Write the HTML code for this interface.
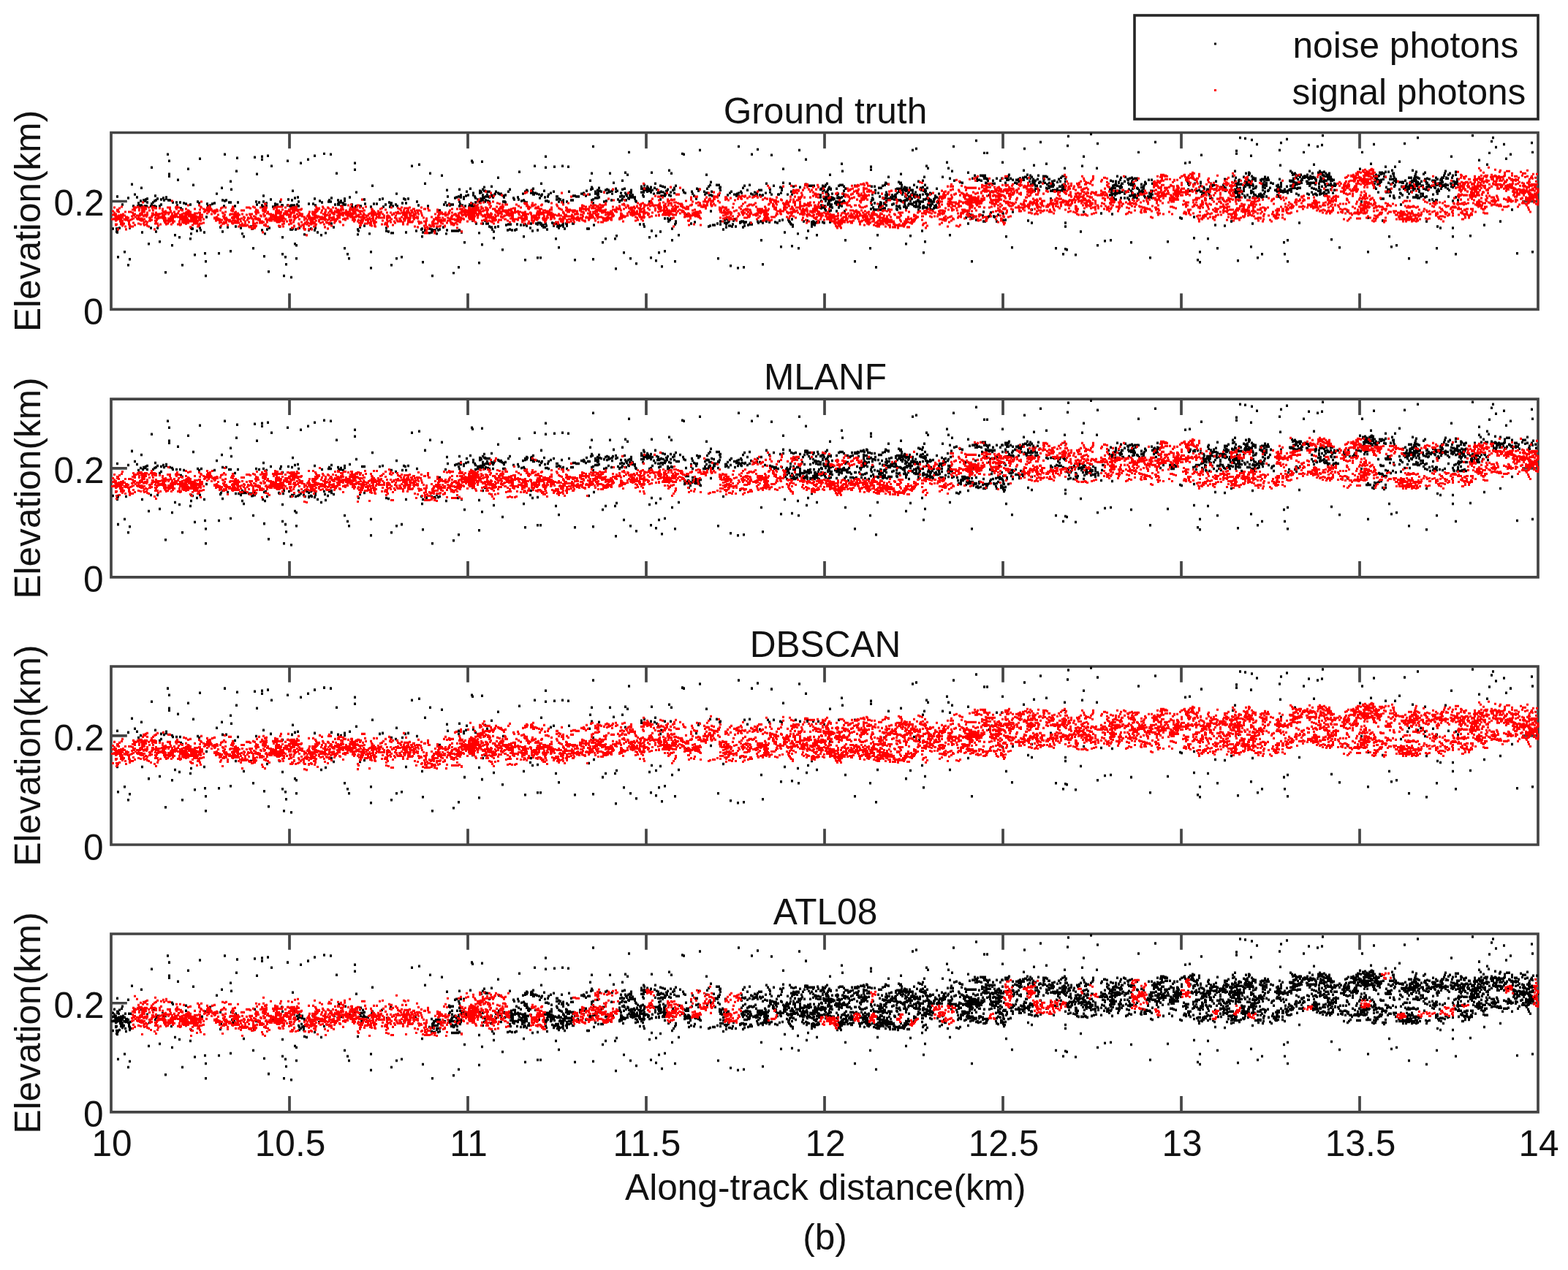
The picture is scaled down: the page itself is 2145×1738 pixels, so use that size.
<!DOCTYPE html>
<html><head><meta charset="utf-8"><title>Photon classification</title><style>html,body{margin:0;padding:0;background:#fff;overflow:hidden}svg{display:block}</style></head><body>
<svg xmlns="http://www.w3.org/2000/svg" xmlns:xlink="http://www.w3.org/1999/xlink" width="2145" height="1738" viewBox="0 0 2145 1738">
<rect width="100%" height="100%" fill="#fff"/>
<defs><path id="g0" d="M159 88h3m-3 49h3m-2 34h3m6-7h3m2 18h3m-3-92h3m-1 84h3m0-103h3m10 5h3m7 77h3m1-105h3m8 102h3m5 42h3m0-162h3m-1 9h3m-3 18h3m-3 3h3m1 95h3m-2-59h3m0 45h3m1-76h3m-1 79h3m1 38h3m5-132h3m0 96h3m1-74h3m-1 96h3m4-132h3m4 130h3m-2 11h3m-3 20h3m12-113h3m0 82h3m1-90h3m1-46h3m5 37h3m-3 96h3m-2-85h3m4-25h3m-2-18h3m6 108h3m10 16h3m-1-125h3m0 23h3m4-24h3m-3 4h3m0 133h3m2-138h3m-2 159h3m1-145h3m12 98h3m-3 23h3m-1 30h3m-1-26h3m-2 10h3m-1-142h3m2 160h3m-1-119h3m0 73h3m-1 20h3m-3-18h3m3-113h3m7-5h3m6-5h3m6 109h3m1-112h3m6 1h3m5 26h3m8 103h3m1 8h3m-1 6h3m5-131h3m-3 9h3m-1 31h3m17 104h3m-3-22h3m-1-91h3m23 109h3m4-9h3m4-2h3m11-125h3m7-2h3m1 99h3m-2 35h3m0-108h3m4-14h3m0 141h3m10-138h3m4 20h3m6 114h3m4-8h3m-2-107h3m3 11h3m-2 62h3m7-112h3m-2 2h3m6 138h3m-3-41h3m1-98h3m-3 114h3m-2-29h3m0-45h3m6-6h3m0 71h3m3-83h3m3 99h3m20-107h3m3 89h3m-1 32h3m7-40h3m0-89h3m1 88h3m-3 38h3m1 0h3m-2-102h3m3-37h3m-3 15h3m4 35h3m1-2h3m-2-34h3m-1 99h3m1 12h3m2-112h3m5 1h3m-2 34h3m5 94h3m16-43h3m-2-47h3m-2-19h3m-1-10h3m-3 19h3m-1-56h3m-3 155h3m-2-47h3m9 24h3m1-5h3m3-90h3m2 13h3m-1 77h3m-2 41h3m-2-45h3m5-76h3m-1 99h3m-1-110h3m-3 28h3m0-25h3m-1-31h3m-1 146h3m5 7h3m4-106h3m-3 3h3m1-5h3m4 72h3m-1 28h3m-3-97h3m-2-20h3m-3 80h3m2-65h3m-2 72h3m-3 34h3m-2-98h3m-1 4h3m-2 83h3m-1-29h3m-3-44h3m-2-5h3m-2 97h3m1-21h3m-3-88h3m3-23h3m0 4h3m-2 92h3m1 29h3m2-36h3m2-112h3m-1 1h3m0 83h3m15-35h3m-2-54h3m6 34h3m11 14h3m-1 101h3m-1-97h3m-2-1h3m1 58h3m7 50h3m7 3h3m-2-167h3m-1 105h3m2 61h3m-2-112h3m1 6h3m0-7h3m0-42h3m5-7h3m0 63h3m-1 62h3m-1 33h3m9-150h3m0 42h3m6 2h3m-2 82h3m0-107h3m-1 87h3m7 19h3m5-17h3m-2 20h3m-2-135h3m-2 51h3m5-38h3m-2 108h3m-1-10h3m2-6h3m4 12h3m7-62h3m-1 12h3m3 11h3m-3-44h3m9 15h3m1-30h3m-2 10h3m1 95h3m10 29h3m-3-104h3m18 86h3m-2-108h3m-3-4h3m4 138h3m-1-44h3m6-44h3m3-36h3m-3 10h3m14-14h3m4 96h3m3-11h3m0-118h3m-1 72h3m0-74h3m1 78h3m1 35h3m-2-69h3m-2 99h3m-2-104h3m-2 89h3m-1-104h3m-1 3h3m17 12h3m3-20h3m-1 8h3m-1 14h3m-3 78h3m0-88h3m-1-34h3m17 36h3m-3 70h3m2 52h3m3-166h3m8 17h3m1 0h3m0 58h3m0-5h3m4-18h3m4 0h3m-2-22h3m-3 69h3m2 33h3m5 15h3m-2-49h3m12-57h3m-2-30h3m2 99h3m2 3h3m-3-18h3m0-61h3m6-32h3m5 30h3m10 116h3m7 8h3m-1-118h3m-3 10h3m-2 101h3m-3-36h3m-3 5h3m-1 32h3m-2-143h3m-2-13h3m7 163h3m4-32h3m-1-90h3m-1-13h3m-3 76h3m7-107h3m5 47h3m-2-34h3m-3 140h3m2-44h3m2 38h3m5-1h3m-1-36h3m23 39h3m7-124h3m13 145h3m4-159h3m14 137h3m14-33h3m-1 1h3m2-76h3m3-1h3m3 104h3m-3-29h3m2 59h3m0-11h3m-3 14h3m-1-147h3m6 115h3m7-19h3m0 32h3m7-94h3m-3 63h3m6-6h3m-1-62h3m0-7h3m-1-28h3m-3 4h3m-1 147h3m-2-83h3m-1-86h3m4 1h3m5 149h3m-3-125h3m-2-22h3m-2 115h3m3-109h3m-2 156h3m3-5h3m21-143h3m-2 21h3m-2-31h3m-3 55h3m1 82h3m-2 16h3m0-158h3m-2 168h3m-3-29h3m7-92h3m3 68h3m3-97h3m4-10h3m4 27h3m2-25h3m3-2h3m-2-13h3m9 143h3m8 11h3m8-50h3m14-58h3m0-23h3m5 90h3m-3 47h3m1-121h3m1-27h3m9 105h3m1-74h3m2 96h3m0 14h3m2-110h3m-1 108h3m1-115h3m-1 59h3m2-84h3m1 74h3m-1 84h3m-3-89h3m2-32h3m4-45h3m-3 80h3m1-3h3m3-29h3m-3 34h3m-1 33h3m-3 56h3m6-93h3m2 8h3m-3 66h3m-2-30h3m1 2h3m4-78h3m1 35h3m1-55h3m-1 98h3m-3 12h3m1-54h3m-3 78h3m0-74h3m-2-7h3m13 56h3m0-138h3m6 34h3m4 89h3m1-83h3m0-16h3m0-16h3m-1-5h3m1 13h3m3 102h3m2-106h3m0 20h3m3-6h3m-1 76h3m4 60h3m17-152h3m-2 150h3m-3-137h3"/><path id="g1" d="M234 94h3m389-2h3m287-17h3m132 1h3m33-3h3m13 0h3m-3 2h3m5 0h3m4 0h3m827 20h3m12 0h3"/><path id="g2" d="M629 87h3m262-11h3m171 0h3"/><path id="g3" d="M1049 73h3"/><path id="g4" d="M153 132h3m3 3h3m-2-3h3m97-1h3m37-1h3m105 1h3m18 3h3m30-38h3m124 37h3m1 1h3m0-3h3m-1 3h3m-1-1h3m18-43h3m-1-1h3m-1 46h3m-1-1h3m-3-39h3m-1-6h3m10-12h3m10 18h3m-2-14h3m-2 1h3m-1-4h3m-1-3h3m1 6h3m0 8h3m10-5h3m12-6h3m2 12h3m3-1h3m-2 3h3m1 2h3m-1-10h3m-2 9h3m-2 2h3m-2-14h3m-1-2h3m-2 1h3m2 3h3m-2-4h3m-3 4h3m-1 2h3m-3-2h3m-3-6h3m-2 8h3m1-1h3m0 1h3m-2 5h3m-1-3h3m-2-2h3m0-5h3m-2 9h3m-2 5h3m-1 0h3m-2-6h3m-2-3h3m-3 10h3m8-3h3m-3-4h3m-2 0h3m-1 3h3m-1 1h3m-1 3h3m-1-2h3m2 2h3m3-2h3m-1 0h3m9-9h3m0-1h3m-3 2h3m-2 0h3m-1 2h3m-2-7h3m3-2h3m-2 15h3m-2-16h3m-2 15h3m3-2h3m0-10h3m5-1h3m-1-1h3m3 15h3m-2-13h3m7 14h3m-3 1h3m-2-7h3m-2-5h3m-2 4h3m-3 6h3m-2-2h3m-1-3h3m-2-11h3m-2 16h3m-2 0h3m-3-8h3m-2 2h3m-3-2h3m-1 5h3m-2 1h3m-2-9h3m-3 4h3m-2 2h3m-2-6h3m-3 1h3m-3-4h3m-1 7h3m-3 3h3m0 0h3m-3 2h3m-2 3h3m-2 1h3m4-13h3m-1 4h3m-2-4h3m-3-5h3m-3 3h3m0-1h3m-1-5h3m1 4h3m7 5h3m-1 0h3m-1-1h3m-2-1h3m-1-7h3m-2 8h3m-3 5h3m-1 0h3m-3-3h3m-2 1h3m-2-5h3m-2 0h3m-3 2h3m-2-4h3m-1 8h3m-1 1h3m-3-5h3m0-3h3m-1 4h3m-3-7h3m-3 2h3m-1-5h3m7 6h3m-2 3h3m-1 1h3m7 1h3m16-1h3m-2-6h3m-1-3h3m0-6h3m8 18h3m-3-14h3m-1 7h3m26 4h3m-1-7h3m8 8h3m1 3h3m1-1h3m3-7h3m4-9h3m14 15h3m3-16h3m6 1h3m2 4h3m13-2h3m-2-1h3m2 2h3m3 0h3m6 5h3m-3 11h3m-3-3h3m-2-9h3m-3 17h3m-3 6h3m-3 4h3m-2-1h3m-2-22h3m-3-6h3m-2 14h3m-2 2h3m-3 12h3m-2-2h3m-3 4h3m-3 0h3m-3 0h3m-3-3h3m-2-30h3m-3 35h3m-3-25h3m-3 12h3m-2-3h3m-2-21h3m-3 19h3m-3-8h3m-2 18h3m-3-1h3m-3-19h3m-3 5h3m-2 14h3m-3-12h3m-3-9h3m-3 13h3m-3 2h3m-3-3h3m-3 7h3m-2-1h3m-3 3h3m-3 10h3m-1-1h3m-3-14h3m-3 8h3m-3-24h3m-3 1h3m-3 14h3m-2 7h3m-2 4h3m-3-19h3m-2 8h3m0 5h3m-1-20h3m-3 22h3m-3-3h3m-3 1h3m-3 11h3m-2-13h3m-2 3h3m-2-1h3m-3 6h3m-2-7h3m-3 4h3m-2-28h3m-3 24h3m-1 5h3m-3-5h3m-3 1h3m-2-1h3m-3-24h3m-2 23h3m-2-1h3m-3-20h3m-2 22h3m-3 12h3m-2-31h3m32 19h3m-3 9h3m-2-31h3m-3 25h3m-1-7h3m-3 11h3m-2 3h3m-2-32h3m-3 23h3m1 9h3m-2 0h3m-3-23h3m-2 19h3m-3-26h3m-2 23h3m-3 3h3m-3-14h3m-2 8h3m-2 1h3m-3 3h3m-3-24h3m-3 25h3m-1-28h3m-3 17h3m-3 15h3m-1-1h3m-3-6h3m-2 0h3m-3-26h3m-3 32h3m-3 0h3m-2-35h3m-3 21h3m-3-4h3m-2 9h3m-3-13h3m-3-12h3m-3 30h3m-2-15h3m-3 2h3m-2 4h3m-2 0h3m-3 15h3m-2-14h3m-1-2h3m-3-1h3m-1 2h3m-3 8h3m-2-11h3m-2 0h3m-3 10h3m-3-10h3m-2 4h3m-2-6h3m-3 0h3m-2 3h3m-3 3h3m-3-14h3m-2 23h3m-3 4h3m-2 1h3m-3-29h3m-3 6h3m-2-6h3m-2 25h3m-3-34h3m-3 9h3m-3 4h3m-3 21h3m-3-9h3m-3 0h3m-2-14h3m-3 22h3m-2-8h3m-3-23h3m-3 11h3m-2-4h3m-3 17h3m-3-25h3m-2 5h3m-3-2h3m-2 23h3m-3-10h3m-3-6h3m-2 3h3m-3-4h3m-2 24h3m-3-8h3m-3-17h3m-2 21h3m-3-3h3m-3-20h3m-2 13h3m-3 13h3m-3-8h3m-3-14h3m-3 14h3m-3-17h3m-2 28h3m-3-24h3m-2 6h3m-3 5h3m-3 12h3m-3-11h3m-3-13h3m-3 14h3m-2-1h3m-2-1h3m-3 9h3m-3-17h3m-2 5h3m-3-7h3m-2 10h3m-3-15h3m-2 18h3m-3-6h3m-2-3h3m-2 6h3m-3 7h3m-2-16h3m-3 17h3m-3-20h3m-3 3h3m-3 2h3m-2 1h3m-2 16h3m-3-13h3m-3-3h3m-1 17h3m-3-20h3m-2 13h3m-3 2h3m-3-11h3m-3 12h3m-3 3h3m-2-26h3m-3 11h3m-2 7h3m-3 1h3m-3 8h3m-3-14h3m-2 5h3m-3 13h3m-3-39h3m-2 29h3m-2 2h3m-3-12h3m-3 12h3m-2-22h3m-2 3h3m-1 6h3m-3 17h3m-3 2h3m-3-29h3m-3 20h3m-2-15h3m-3 21h3m-1 2h3m-3-25h3m-3-6h3m-3 9h3m-2 3h3m-3-4h3m-2 4h3m-3 7h3m-2 12h3m-3-27h3m-3 29h3m-3-18h3m-2-2h3m-3 14h3m-1 0h3m-2 6h3m-3-6h3m-3-16h3m-3 19h3m-3 2h3m-2-20h3m-3 9h3m-3 7h3m-1 6h3m-1-11h3m1-18h3m-2 19h3m-1-5h3m18-25h3m5 2h3m0 1h3m2 48h3m0-2h3m-2-3h3m-1 3h3m-2-2h3m-1-50h3m-2 52h3m1 5h3m-2-58h3m-3 4h3m-3-3h3m0 2h3m-2 48h3m-1-47h3m-1-7h3m-2 50h3m-3 13h3m-2-59h3m-2-4h3m-3 1h3m-3 62h3m-2-53h3m-2 50h3m-3-56h3m-2 7h3m-3-6h3m-2 2h3m-3 50h3m-1-45h3m2-5h3m-3 4h3m-1 0h3m0 52h3m-1-9h3m0-47h3m0 54h3m-2-8h3m-3 9h3m0-1h3m-3-58h3m0 1h3m-3-1h3m-2-2h3m-2-2h3m2 7h3m0 4h3m-2 0h3m-2-4h3m0-1h3m-3 3h3m-1-4h3m-2 2h3m-2 0h3m-1-3h3m-2 3h3m-1-4h3m-2 0h3m-1-3h3m-3 5h3m1-4h3m-3 4h3m-1-2h3m-1 3h3m-3 5h3m-2 0h3m-1 4h3m-3 4h3m-1 0h3m-3-4h3m-1-14h3m-1 9h3m12 12h3m-1 0h3m2 0h3m3 0h3m1 0h3m62-14h3m-2 11h3m-2-1h3m-3 0h3m-3 3h3m-2-3h3m-1-4h3m-2 4h3m-3-4h3m-2-2h3m-3 10h3m-3-13h3m-3 2h3m-1 11h3m-3-20h3m-1 9h3m-2 5h3m-2 2h3m-2-14h3m-3 11h3m-2 2h3m-3-5h3m-2 0h3m0-3h3m-2-6h3m0 3h3m-2 5h3m-3-4h3m-2 13h3m-3-7h3m-2-8h3m-1 9h3m-3-2h3m-2-8h3m-1 8h3m-2 1h3m1 5h3m-2 1h3m2-2h3m0 2h3m8-12h3m-2 5h3m55 0h3m5-1h3m-3 4h3m-1 13h3m-1-11h3m-3 8h3m-2-6h3m0 4h3m-2-3h3m-1 5h3m-3-5h3m-2 8h3m-2-8h3m-2-8h3m-1 21h3m-3-19h3m-3 1h3m-1-1h3m0-5h3m4 8h3m-1 16h3m-3-14h3m-1-2h3m-2-11h3m-3 15h3m-2-3h3m-3 4h3m-2-11h3m8 14h3m-3-1h3m-2 0h3m-3-16h3m-2 14h3m-3-18h3m-3 20h3m-3 7h3m-3-18h3m-2 12h3m-3-2h3m-2-5h3m-2 9h3m-3 3h3m-3 0h3m-3-18h3m-3 1h3m-2 13h3m-3-18h3m-3 1h3m-2 21h3m-3-23h3m-3 20h3m-3 4h3m-2-18h3m-1 0h3m-2 13h3m-1-23h3m-3 15h3m-2 11h3m-2 2h3m-3 0h3m-3-22h3m-2 3h3m-3-14h3m-3 14h3m-2 0h3m-2 16h3m-3-25h3m-3 3h3m-3 4h3m-3 1h3m-1-11h3m-3-3h3m-3 11h3m-2-10h3m-3 33h3m-3-18h3m-2-4h3m-3 3h3m-2 13h3m-2-23h3m-2 4h3m-3 7h3m-3 0h3m-2 11h3m-3-9h3m-3 4h3m-3 12h3m-3-27h3m-2 23h3m-3-21h3m-1 22h3m-3-23h3m-3 3h3m-3 10h3m-2-2h3m-2 15h3m-2 0h3m-3-1h3m-1-3h3m-2 1h3m-3 1h3m-2-3h3m-3 4h3m-3-23h3m-1-1h3m-3 25h3m-3-3h3m-3-16h3m-2 2h3m-3 7h3m-2 9h3m-3-15h3m-3-9h3m-3 7h3m-2 1h3m-3 12h3m-3-17h3m-2-4h3m-3 18h3m-3-20h3m-3 15h3m-1-11h3m-3 4h3m-3-5h3m-3 9h3m-3-2h3m-1 9h3m-3-18h3m-2 3h3m-3 0h3m-3 14h3m-1-3h3m-2-7h3m23-3h3m-2 1h3m-1-1h3m-3-11h3m-2 12h3m-3-9h3m-2-1h3m-3 12h3m-3-6h3m-2 5h3m-3 1h3m-1-11h3m-3 4h3m-2 0h3m-3 7h3m-2-10h3m-2 5h3m-3 5h3m-3-10h3m-1 9h3m-2-7h3m-2-3h3m-3 9h3m-2 2h3m-3-4h3m-2 0h3m-3-1h3m-2-3h3m-2 1h3m-1-1h3m-3 0h3m-3-1h3m-1 7h3m-3-6h3m-2 0h3m-3 6h3m-3-7h3m-2 2h3m-2 2h3m-3-2h3m1 14h3m-3 6h3m-1 3h3m-1-16h3m-2 2h3m-2 14h3m-3-17h3m-2 18h3m-1-6h3m-2-4h3m-3-2h3m-3-4h3m-2 14h3m-3 1h3m-3-18h3m-2 12h3m-3 2h3m-3-14h3m-2 17h3m-3-18h3m-2 1h3m-3 7h3m-3-7h3m-1 16h3m-2-1h3m-3 4h3m-3-18h3m-2 3h3m-2-5h3m-3 8h3m-2-8h3m-3 18h3m-3 1h3m-1-14h3m-3 1h3m-2 10h3m-1-10h3m-2-6h3m-3 12h3m-3-8h3m-1-4h3m-2 7h3m-3 10h3m-1-13h3m-3 9h3m-2-6h3m50-13h3m-1 2h3m-2-4h3m-2 5h3m-1-3h3m-3 22h3m-2-23h3m-2-4h3m-1 2h3m-3 34h3m-2-35h3m-1 35h3m0-30h3m-2 21h3m-1-2h3m-3-2h3m-2 4h3m-3-4h3m-2 0h3m-2 9h3m-2-5h3m-1-30h3m-2 4h3m-2 0h3m-3 3h3m-3 28h3m-2 3h3m-3-28h3m4 27h3m-3-11h3m-2 5h3m-2 1h3m-1 2h3m-2-18h3m-2 9h3m-1-1h3m-3-10h3m-2 7h3m-2 1h3m-3 4h3m-3-8h3m-2 11h3m-3-3h3m-2-3h3m-2 1h3m-3 1h3m-3-15h3m-3 12h3m-2 0h3m-3-1h3m-3-3h3m-2 0h3m-3-2h3m-2 6h3m-3 0h3m-3-1h3m-3-11h3m-3 19h3m-2-5h3m-3-1h3m-3-1h3m-3-1h3m-3-7h3m-2 2h3m-2 9h3m-3-3h3m-3 5h3m-3 10h3m-3-23h3m-2-3h3m-3 2h3m-2 12h3m-3-17h3m-3 3h3m-2 2h3m-3-8h3m-3 32h3m-2-18h3m-3-5h3m-3 20h3m-3-32h3m-3 7h3m-3 8h3m-2 4h3m-2 4h3m-3 13h3m-3-28h3m-3 0h3m-2 9h3m-3 6h3m-2 13h3m-3-9h3m-3-1h3m-3-17h3m-2 7h3m-2 18h3m0-4h3m-3-11h3m-3 14h3m-2-10h3m-3-20h3m0 21h3m-2-3h3m-3-5h3m-3 18h3m-2-14h3m-3-5h3m-2 10h3m-2-5h3m-3-2h3m-2 21h3m-1-18h3m-3-1h3m-1-1h3m-3 19h3m-1 3h3m-2-20h3m-2-4h3m-3-1h3m-3 6h3m-3-7h3m-2 24h3m-2-13h3m-3 1h3m-3-9h3m-2 10h3m-2-4h3m-2-8h3m-3 10h3m-2-7h3m-2-4h3m-3-4h3m-2 6h3m-3-7h3m-3 8h3m-3 5h3m-2-3h3m-3-12h3m-3 4h3m-3-3h3m-2 5h3m-2 4h3m-2 1h3m-3-14h3m-2-3h3m-2 15h3m-3 1h3m-3 3h3m-2-13h3m-3 1h3m-1 9h3m-3-9h3m-3 14h3m-2-19h3m-2 21h3m-2-23h3m-2 14h3m-2 0h3m-3 4h3m-2-12h3m-3 10h3m-2 3h3m-3 19h3m-2-27h3m-2 4h3m-3 2h3m-2-5h3m-2-14h3m-3 4h3m-2 12h3m-2-3h3m-3-3h3m-2 7h3"/><path id="g5" d="M160 133h3m8 0h3m172-2h3m58-6h3m0 4h3m1-1h3m-3 3h3m-3-5h3m25 0h3m218-45h3m51 2h3m-1-1h3m3-2h3m39 3h3m28 2h3m2 0h3m52-2h3m18-13h3m-2 7h3m12 10h3m1 1h3m-3-9h3m-2 14h3m-2-5h3m1 1h3m3-6h3m10 2h3m0 0h3m-1-9h3m1 32h3m-1 4h3m-3 4h3m-3-5h3m-2 4h3m-3-1h3m-2-20h3m-3 11h3m-2 9h3m-2 0h3m-2-3h3m-3 4h3m-3-10h3m-2 7h3m-3 9h3m-2-8h3m-3 2h3m-2 0h3m-3 3h3m-2-26h3m1 20h3m-2 2h3m-2 1h3m-3-27h3m-1 0h3m-3 27h3m-2-2h3m-1 1h3m-2 3h3m-2 1h3m10-27h3m1 3h3m-2-12h3m-2 9h3m-2-3h3m-3 0h3m-1 0h3m-1 6h3m-3-9h3m-1-2h3m5 6h3m19 2h3m-2-4h3m0 1h3m-2-1h3m0 3h3m0-2h3m8-7h3m7 9h3m4 3h3m-3-2h3m-2 3h3m-1-2h3m-1 1h3m-2 0h3m-3 2h3m-1-2h3m-2 2h3m-1 0h3m2-2h3m-1-19h3m0 32h3m-2-10h3m-2 13h3m-3-10h3m-3-3h3m-3-2h3m-3 9h3m-3 0h3m-1-5h3m-3-2h3m-2 5h3m-2-6h3m-2 10h3m-3-17h3m-3 4h3m-2-19h3m-3 32h3m-3 4h3m-2-6h3m-3-1h3m-2 7h3m-3-5h3m-2 3h3m-3-15h3m-3 3h3m-3 1h3m-2 10h3m-2 3h3m-3-12h3m-3-17h3m-3 15h3m-2 13h3m-3-26h3m-2 21h3m-2 0h3m-3 4h3m-3-14h3m-2 0h3m-3 10h3m-2-23h3m-2 11h3m-2 14h3m-3-4h3m-3-6h3m-3 2h3m-3 3h3m-3 2h3m-1-1h3m-3 0h3m-2-15h3m-3 15h3m-2 4h3m-3-26h3m-2 30h3m-3-8h3m-3 5h3m-2 2h3m-3-9h3m-3-10h3m-3-13h3m-3 22h3m-2-26h3m-3 35h3m-3-1h3m-3-6h3m-3-29h3m-2 28h3m-2 5h3m-2 5h3m-3-2h3m-3-7h3m-3-29h3m-2 26h3m-3 0h3m-2-19h3m-3 23h3m-2-2h3m-3-2h3m-2 12h3m-3-1h3m-3-12h3m-3-15h3m-3 8h3m-2 11h3m-1 8h3m-3 1h3m-2-4h3m-3-23h3m-3 5h3m-2 9h3m-2 10h3m-3-21h3m-3 15h3m-3 9h3m-3-8h3m-3 2h3m-2 0h3m-3 4h3m-3-7h3m-3-16h3m-2 21h3m-3-20h3m-3 3h3m-3-10h3m-2 24h3m-3 4h3m-2 2h3m-3-36h3m-3 30h3m-2 1h3m-3-4h3m-3-10h3m-3 12h3m-3-16h3m-2 24h3m-3-13h3m-3 7h3m1-8h3m-2-12h3m-2-6h3m-3 11h3m3 21h3m-2-19h3m10 9h3m2-1h3m0-1h3m-1-9h3m-2 9h3m-3 9h3m-2-7h3m-2-3h3m-3 4h3m-3-23h3m-3 9h3m-2 25h3m-2-17h3m-2 6h3m-3-21h3m-2-1h3m-3 29h3m-2-5h3m-2-29h3m-2 34h3m-3-30h3m-1 31h3m-2-8h3m-3-26h3m-2 26h3m-2-27h3m-3 34h3m-3 0h3m-2-33h3m-3 18h3m-2-20h3m-2 6h3m-3-5h3m-2 27h3m-2-6h3m-2 2h3m-3-25h3m-2 36h3m-3-4h3m-3-10h3m-2-22h3m-2 32h3m-3-12h3m-3-4h3m-2-6h3m-3-5h3m-3 3h3m-3-9h3m-3 22h3m-3-4h3m-2-1h3m-3-10h3m-3-5h3m-3 13h3m-3 4h3m-3-5h3m-3 7h3m-2 17h3m-3-6h3m-2-15h3m-3 3h3m-3-4h3m-2-9h3m-3 24h3m-3-32h3m-3 18h3m-3-18h3m-2 1h3m-3 11h3m-3 11h3m-2-19h3m-2 36h3m-3-23h3m-2-13h3m-3 8h3m-1 16h3m6 1h3m-2 9h3m0-4h3m-1-19h3m-2 23h3m-3-6h3m-3 7h3m-3-18h3m-2 0h3m-1 17h3m-2-11h3m-1 12h3m-1-15h3m-3-22h3m-2 10h3m-3 4h3m-3 21h3m-2-13h3m-1-13h3m-3 26h3m3-26h3m-2 17h3m-3-5h3m-2 2h3m1-14h3m-2 3h3m0 13h3m0-12h3m-2 23h3m-3-20h3m1 22h3m-3-30h3m-2 12h3m0-5h3m2 2h3m1 21h3m-3-20h3m-1-11h3m-3-10h3m0 1h3m-2 10h3m-1 29h3m0-1h3m0-2h3m-3-8h3m-1-12h3m-3 22h3m-2 0h3m0 1h3m-3-25h3m5 9h3m-2-4h3m-3 0h3m-3 7h3m-2-6h3m-3 6h3m-1-4h3m-3 4h3m-3-15h3m-3 8h3m-1-1h3m-2-4h3m-3-1h3m-2 5h3m-2-1h3m-3-5h3m0-7h3m-3 10h3m-2 7h3m-3 4h3m-3-13h3m-2 9h3m-2 3h3m-3 4h3m-3-7h3m-2-12h3m-3 18h3m-2-26h3m4-6h3m-3 63h3m-2-21h3m-2 4h3m-2 18h3m-3-14h3m-1 12h3m-2-12h3m-3 1h3m-3-5h3m-3 0h3m-3 3h3m-2-4h3m-3 1h3m-2-5h3m-2 3h3m-3 2h3m-1-5h3m-3 3h3m-3-2h3m-3-20h3m-2 0h3m-3-1h3m-3 21h3m-2 1h3m-3 0h3m-2-1h3m-3 6h3m-3-5h3m-1 7h3m-3-3h3m-3-5h3m-2 6h3m-3-5h3m-3-16h3m-2-28h3m-2 50h3m-2-27h3m-3 2h3m-2 11h3m-3-4h3m-3 12h3m-2 5h3m-3-20h3m-2 25h3m-2-55h3m-2 52h3m-2-20h3m-3-33h3m-3 54h3m-3-50h3m-3 18h3m-3 32h3m-2-1h3m-3-8h3m-1 13h3m-3-1h3m-2 2h3m-2-8h3m-3 2h3m-3-38h3m-1 20h3m-3 23h3m-1-48h3m-2 45h3m-1-1h3m0 0h3m-3 5h3m-3-49h3m-3 7h3m-2 39h3m-1-48h3m-2-7h3m-2 24h3m-3 9h3m-3-14h3m-2-12h3m-2 32h3m-2-4h3m-3-26h3m-1 21h3m-3-12h3m0 27h3m-3 11h3m-2-4h3m-3-36h3m-3 16h3m-1 12h3m-1-1h3m-3 3h3m-3-18h3m-1 17h3m-3 13h3m-3-3h3m-2 1h3m-3-10h3m-3-9h3m-2-37h3m-3 9h3m-2 43h3m-3 8h3m-3-9h3m-3-9h3m-2 21h3m-3-10h3m-2 8h3m-2-64h3m-1 0h3m-3 47h3m-3 2h3m-2-31h3m-2 38h3m-1-15h3m-1 4h3m-3-4h3m-1-30h3m-3 28h3m-3-2h3m-3 3h3m-3-23h3m-2 1h3m0 25h3m-3-7h3m0 7h3m-2-26h3m-2 31h3m-3-2h3m-2-42h3m-2 34h3m-3-30h3m-2-3h3m-3 7h3m-2 31h3m-3-4h3m-2 6h3m-1-32h3m2-4h3m-2-7h3m9 15h3m9 3h3m-1 1h3m1 12h3m2-12h3m0 9h3m-1-5h3m-1-3h3m-3 5h3m-1 4h3m1-10h3m-2 1h3m-2 1h3m-2 16h3m-2-3h3m-3 1h3m-3-2h3m-2 3h3m-2-2h3m-3 2h3m-3 11h3m-3-9h3m-2 0h3m-3 4h3m-2-11h3m-2 7h3m-3 8h3m-2-10h3m-2-4h3m-3 1h3m-3-2h3m-1 16h3m-2-17h3m-3-1h3m-1 14h3m-3-4h3m-2 6h3m-3-5h3m-2 6h3m-2-3h3m-2-11h3m-3-2h3m-3 3h3m-2-6h3m-2 5h3m-2 0h3m-2-1h3m-3 4h3m-2-2h3m-2 5h3m-3-11h3m-2 4h3m-3-3h3m-2 14h3m-2-13h3m-2 9h3m-3-2h3m-2 4h3m-3-6h3m-3 3h3m-3-3h3m-1 4h3m-2-6h3m-1 4h3m-3-9h3m-3 6h3m-2 5h3m-3 4h3m-1-6h3m-3-1h3m-2-5h3m-3 11h3m0-9h3m-3 12h3m-3-4h3m-3-4h3m-3 7h3m-3-8h3m0 3h3m-2 2h3m-3 2h3m2-7h3m-2-7h3m-2 0h3m4-20h3m-2 5h3m15 4h3m-2 0h3m12-3h3m24-8h3m-3 7h3m-3-4h3m-2 1h3m-3-4h3m-3-1h3m-2 6h3m-3-3h3m-2 9h3m-3-6h3m-2-3h3m-3-1h3m-2-9h3m-3 6h3m-3 7h3m-2-5h3m-2-1h3m-3 0h3m-3 9h3m-1 18h3m1-4h3m6 0h3m-3 2h3m-1 3h3m-2-2h3m-3 1h3m-1-1h3m-3 2h3m-2-5h3m-1 2h3m-3-1h3m17-22h3m1 24h3m-3-22h3m-3 2h3m-1-2h3m-2 21h3m-2-2h3m-3 6h3m-2-6h3m-2-20h3m-1 20h3m0-2h3m-2 6h3m-2-7h3m-3 9h3m-3 2h3m-2-18h3m-3 6h3m-1 4h3m-3 3h3m-2-8h3m-3 6h3m-3-9h3m-3 15h3m-2-11h3m-3 12h3m-1-17h3m-3-16h3m-3 16h3m-2-18h3m-3 5h3m-2 30h3m-3-16h3m-2-4h3m-3 10h3m-3-7h3m-3-2h3m-2-9h3m-3 4h3m-3 3h3m-3 10h3m-2-10h3m-2 15h3m-1 3h3m-3-17h3m-3 8h3m-3-17h3m-1 14h3m-2-5h3m-3-6h3m-2 4h3m-3 4h3m-3 18h3m-2-25h3m-3-14h3m-3 32h3m-1-12h3m-3 16h3m-2-20h3m-3 16h3m-2-2h3m-3-6h3m-3 2h3m-2 12h3m-1-22h3m-3 3h3m-3 1h3m-3 11h3m-2 2h3m-2 2h3m-3-24h3m-3 9h3m-2-9h3m-3-4h3m-2 29h3m-2-16h3m-3-11h3m-3 4h3m-2-3h3m-3-5h3m-3 29h3m-3-14h3m-3-7h3m-1-10h3m-3 28h3m-3-20h3m-2 23h3m-3-11h3m-2 13h3m-3-22h3m-3 10h3m-3-4h3m-2 7h3m-3 5h3m-1-23h3m-2 1h3m-3-13h3m-3 31h3m-3-4h3m-3 9h3m-2-8h3m-3 0h3m-3-15h3m-2-10h3m-3 28h3m-1-20h3m-3 28h3m-3-3h3m-2 0h3m0 0h3m-2-9h3m-2 10h3m-2-27h3m-2 23h3m-3 9h3m1-29h3m-2-7h3m-2 3h3m-2-1h3m-2-3h3m-3 32h3m-1-25h3m-2 25h3m0-26h3m-3 28h3m-2-5h3m-1 5h3m-3 3h3m-2-6h3m-3-2h3m-1 0h3m-1 4h3m-1-2h3m-3 1h3m-3-2h3m-2-22h3m-1 1h3m-1 22h3m5-2h3m1 4h3m-2-2h3m-1-1h3m-3 7h3m17 2h3m-2-4h3m5 0h3m-3-33h3m-2 32h3m-2-36h3m-3 40h3m-3-7h3m0-24h3m-3 26h3m-2-36h3m-3 10h3m-2 24h3m16-3h3m0-20h3m8 8h3m-2 10h3m0-17h3m-3 17h3m-2 3h3m-1-2h3m0-9h3m-2-4h3m-2 15h3m-2-2h3m0 0h3m-3-1h3m-1-17h3m-2 18h3m-3-18h3m5 2h3m-3 3h3m-2-1h3m-2 4h3m1-8h3m-1 8h3m1 0h3m-1-2h3m-3 0h3m-2-2h3m-2 4h3m-2-8h3m0 0h3m0 1h3m0-18h3m-3-1h3m-2 11h3m-3-4h3m-2 3h3m-3 13h3m-2-24h3m-3 5h3m-3 2h3m-3 14h3m-2-13h3m-3-4h3m-2-2h3m-3 64h3m-3-58h3m-2 12h3m-3 4h3m-3-19h3m-2-1h3m-3 60h3m-3-56h3m-3-1h3m-2-4h3m-3 6h3m-2-8h3m-3 8h3m-2 57h3m-2-61h3m-3-5h3m-3 10h3m-3-9h3m-2-2h3m-2 13h3m-3-6h3m-3 64h3m-3-59h3m-2-8h3m-3-3h3m-3 1h3m-3 5h3m-2 65h3m-3-4h3m-2-58h3m-3-5h3m-3 59h3m-1 1h3m-2-55h3m-2 54h3m-3 0h3m-1-1h3m-3-12h3m-2 1h3m-2-12h3m-2 22h3m-2-10h3m-2 1h3m-1 20h3m-3-18h3m-1-24h3m-3 36h3m-3 4h3m-3-24h3m-2 8h3m-1-7h3m-3 1h3m-2-18h3m0 20h3m0-3h3m1 2h3m8-26h3m-2 20h3m-2-15h3m3 15h3m-3-25h3m0 13h3m0-11h3m-2 3h3m-1 6h3m1-5h3m2 0h3m-2 17h3m2 4h3m-1-18h3m-1 20h3m-1-25h3m-1 24h3m-3-29h3m0 29h3m-1 0h3m-2-27h3m0 26h3m-2-23h3m0 24h3m0-2h3m6-29h3m-1 6h3m-2 25h3m-2-7h3m-1-14h3m-1 22h3m-2-11h3m-3-12h3m-3 21h3m-2-7h3m-3-4h3m-3-21h3m-3 6h3m-2 4h3m-3 13h3m-3-8h3m-2 19h3m-3-28h3m-3 6h3m-2 22h3m-3-6h3m-3-18h3m-3 12h3m-3-28h3m-3 4h3m-3 11h3m-3 8h3m-2-13h3m-3 30h3m-3-13h3m-3-26h3m-3 20h3m-3-5h3m-1 3h3m-3-6h3m-3 6h3m-2-8h3m-3 6h3m-3-13h3m-3-1h3m-2 10h3m-3 25h3m-3-33h3m-2 15h3m-3 1h3m-3-10h3m-2-1h3m-3 18h3m-3-26h3m-2 26h3m-1-11h3m0 2h3m-2 7h3m-3-2h3m-2-2h3m-3 6h3m-2-11h3m-2 8h3m-3-5h3m-1 2h3m-3-20h3m-3 17h3m-3 4h3m-3 0h3m-2-5h3m-2 5h3m-3 0h3m-3-3h3m-3 3h3m-2-5h3m-3 1h3m-3 9h3m-3-1h3m-3-1h3m-2-7h3m-3 6h3m-2-1h3m-2 4h3m-3-37h3m-2 30h3m-2-27h3m-2 7h3m-3 17h3m-3-17h3m-2 26h3m-2-3h3m-2-27h3m-2 20h3m-3 0h3m-2 1h3m-2-17h3m-2 20h3m-2-20h3m-2 19h3m-3 5h3m-2-35h3m1 10h3m-1 6h3m-2 3h3m-3-7h3m-2 7h3m-2-8h3m-3-8h3m-3 16h3m-2-7h3m-3 0h3m-3 8h3m-2-5h3m-3-1h3m-3 4h3m-2-5h3m-3 0h3m-3 2h3m-2-2h3m-2 0h3m-3-1h3m-3 2h3m-2 4h3m-2-5h3m-3 2h3m-3-11h3m-2 9h3m-1 0h3m-2 3h3m-2-4h3m-2 8h3m-3-9h3m-3 8h3m-3-12h3m-3 1h3m-1 11h3m-2-2h3m-3-12h3m0 9h3m-3-9h3m-2 10h3m-1 2h3m-2-9h3m-3 8h3m-2 3h3m0-7h3m-2 4h3m-3 2h3m-2-6h3m-1 5h3m-2-3h3m-2 6h3m1-9h3m-2-3h3m0 5h3m-3-5h3m0 4h3m-3-8h3m-1 15h3m-2 1h3m-3-4h3m0-4h3m-2 3h3m-2-6h3"/><path id="g6" d="M158 132h3m-3 4h3m1-5h3m1-32h3m7 32h3m74-33h3m30 2h3m95 0h3m28 40h3m53-41h3m14 41h3m1-39h3m38-2h3m53 35h3m-2 0h3m20-36h3m-2 2h3m-2-1h3m-1 36h3m-2-36h3m-1 36h3m-1 0h3m2-1h3m-3-33h3m42 32h3m-1 3h3m16-2h3m0-1h3m-2-7h3m-1 8h3m0-42h3m-2 42h3m-1-1h3m-2-7h3m2 1h3m1 0h3m-1-1h3m-1 2h3m-3-32h3m5-15h3m1 2h3m11 42h3m-2 3h3m-2 5h3m4-9h3m-1 4h3m-3-3h3m1 0h3m-2 4h3m-2 0h3m-3-2h3m-2 4h3m-3-36h3m-3 32h3m-1 1h3m-3 0h3m0-1h3m-2-2h3m-3-29h3m-3 33h3m-1 3h3m-1-7h3m-2 0h3m-3 3h3m5-3h3m-2 0h3m16 7h3m45-54h3m8 11h3m-3 0h3m-1-2h3m8 39h3m2-38h3m-3 38h3m-2 3h3m-3-53h3m19-3h3m3 45h3m2 4h3m-1-2h3m0 12h3m1-6h3m-2-2h3m-3-2h3m18 3h3m2-2h3m16 6h3m-1-1h3m1-1h3m-1 0h3m1-2h3m1-3h3m-3 4h3m3-2h3m-1 6h3m-3-4h3m-2-2h3m-3 0h3m-1-3h3m-3 2h3m-2 5h3m-2 0h3m0 1h3m-2-3h3m-2-5h3m0 8h3m3-6h3m-2 0h3m-2-1h3m-1 0h3m-3 8h3m-2-7h3m-2 1h3m-3 4h3m-1-5h3m0 4h3m-1-1h3m-2-2h3m-1 2h3m-2-41h3m0-3h3m-2 4h3m-1-3h3m-2 39h3m-2 2h3m-2-45h3m-1 43h3m-2-35h3m-2 35h3m-2-36h3m-3 38h3m1-41h3m-2 39h3m1 1h3m-2-41h3m-3-4h3m-1 7h3m2 38h3m0 1h3m-2-39h3m-1 36h3m-1-38h3m-2-4h3m-2 41h3m4-35h3m-2 35h3m-3-1h3m-2 3h3m-2 1h3m-2 2h3m-2 1h3m-3-45h3m-2 38h3m-3-34h3m-3 0h3m-2 42h3m-3 2h3m12-7h3m2-1h3m3 3h3m-3-1h3m-3 4h3m-3-54h3m-1 49h3m-3 4h3m-2-1h3m-3-2h3m-2 4h3m-2-3h3m-1-1h3m0 0h3m-2-20h3m0-1h3m-2-29h3m0 1h3m-2 15h3m2-14h3m-1 16h3m-3 0h3m-2-2h3m-1 1h3m-1 1h3m-1 4h3m-1-5h3m-3-4h3m-2-2h3m-2 5h3m-2 2h3m-2-1h3m-1-1h3m-1-5h3m-2 3h3m-3-7h3m-1-3h3m38 29h3m4 0h3m-2-8h3m1-7h3m0 3h3m5-8h3m2-1h3m-1 9h3m1 10h3m6-28h3m0 22h3m-1 0h3m-2-19h3m1-7h3m-2 17h3m4 0h3m-3 14h3m-2-8h3m1-3h3m-1 0h3m2 2h3m-3-3h3m-2 1h3m-2 3h3m-1 0h3m0-2h3m-3-1h3m-2-1h3m-2-4h3m-3 1h3m-1 1h3m-1 5h3m-2-10h3m36 27h3m3 7h3m1-59h3m5 0h3m0 55h3m-2-54h3m43 10h3m1-7h3m2 2h3m5 2h3m1 0h3m-2 3h3m-2-1h3m-1-3h3m2 13h3m-3-10h3m-1 5h3m-3-6h3m1-8h3m-3 3h3m-3 4h3m-2-5h3m-3 2h3m-2 5h3m-2-9h3m-2 16h3m-2-5h3m-3-10h3m-3 16h3m-1-4h3m-3-9h3m-2 12h3m-3-7h3m-3 7h3m-3-12h3m-2 10h3m-1-2h3m-2 2h3m-3-7h3m-2 12h3m-3-5h3m-3-4h3m-2 2h3m-2-6h3m-2 13h3m-1 0h3m-2-2h3m-3-9h3m-1 12h3m-3-16h3m-2 10h3m-2-7h3m-3 7h3m-2-12h3m-2 17h3m-3 0h3m-2 0h3m-3-3h3m-3 2h3m-3-6h3m-3-12h3m-2 12h3m-3 4h3m-3-2h3m-2-1h3m-3-1h3m-3 5h3m-2-5h3m-3 6h3m-3-5h3m-3 0h3m-3 2h3m-3-4h3m-2-8h3m-3 13h3m-3-9h3m58 19h3m-3-8h3m-2 13h3m-2-6h3m-3-3h3m-2 8h3m-3-3h3m-2-20h3m-3 24h3m-3-18h3m-2 19h3m-3-2h3m-3-6h3m-2-8h3m-2 10h3m-3-3h3m-2 9h3m-2-8h3m-3-3h3m-2-8h3m-3 10h3m-1-15h3m-2 15h3m-3-3h3m-2 2h3m-3-17h3m-2 25h3m-1-9h3m0 9h3m-3-6h3m-2-3h3m0 9h3m-2-9h3m-2 11h3m-2-5h3m-2 0h3m-2-7h3m-2 5h3m4-20h3m-1 21h3m-1-2h3m8 4h3m-2 2h3m-3-25h3m-3 25h3m-2-6h3m-3-1h3m-2 5h3m-2-1h3m-3-7h3m-3 9h3m-3-5h3m-2-3h3m-3-1h3m-2 5h3m-3 5h3m46-12h3m2 1h3m2-14h3m-2 16h3m-2-1h3m0-1h3m-3 0h3m-1-11h3m-3 13h3m-2 0h3m-2 4h3m8 5h3m-3-16h3m-2 15h3m2-11h3m9-6h3m13 6h3m-2-6h3m-2 1h3m-3-3h3m0-3h3m-3 14h3m-2-4h3m-2-1h3m-2 5h3m-3-1h3m-3 1h3m1-1h3m-3-2h3m-2-5h3m-2 1h3m0-2h3m-2 0h3m-2 0h3m-2 0h3m-3 3h3m-1 5h3m-3-8h3m-2 9h3m9 4h3m-2-19h3m-1 9h3m-1-4h3m0 17h3m6-18h3m0 9h3m-1-6h3m-3 7h3m-2-3h3m-3 4h3m-3 5h3m-3-7h3m-2-7h3m-3 3h3m-3 13h3m-3-16h3m-3 15h3m-2-9h3m-3-3h3m-2-11h3m-3 17h3m-2 8h3m-3-10h3m-3-1h3m-2-7h3m-3 3h3m-2 6h3m-3 1h3m-1 1h3m-2-2h3m-2-2h3m-2 3h3m-1-7h3m-2 9h3m-3-3h3m-3 3h3m-1-4h3m-2-1h3m-2-25h3m-3 20h3m-2 8h3m-3-4h3m-3 1h3m-1-6h3m-3 4h3m-2-2h3m-3 2h3m-3-12h3m-1 8h3m-3-1h3m-3 5h3m-1 8h3m-2-13h3m-3 6h3m-2-1h3m-2 10h3m-2-16h3m-2 6h3m1-14h3m-1 0h3m-3-2h3m1 10h3m-3 14h3m-3-26h3m-1 12h3m-3 15h3m-2-12h3m-3-4h3m-3-16h3m-2 7h3m-3 0h3m-3 2h3m-3 9h3m-2-8h3m-3-2h3m-3 8h3m-2-6h3m-2-7h3m-2 5h3m-3 1h3m-3 7h3m-2 8h3m-2-15h3m-2 2h3m-3 20h3m-2-6h3m-3-13h3m0-10h3m-1-2h3m-2 8h3m-3 3h3m-3-9h3m-2 8h3m-2 0h3m-3-8h3m-3 8h3m-2-5h3m-2 1h3m-3 4h3m-2-9h3m-3 11h3m-1-9h3m-3 23h3m-3-19h3m-1-1h3m-2 4h3m-3-2h3m-3 18h3m-3-21h3m-2 2h3m-3 4h3m-3 18h3m-2-19h3m-3-5h3m-3 2h3m-3-2h3m-3-2h3m-3 7h3m-2-1h3m-2 0h3m-3-1h3m-2 3h3m-3 9h3m0-8h3m0 6h3m50 4h3m-3-9h3m-3 4h3m-1-5h3m-3 12h3m-3-11h3m-2 0h3m-3 0h3m-3 1h3m-2 2h3m-3 0h3m-3-9h3m-3 11h3m-2-6h3m-2 6h3m-2-5h3m-3 3h3m-2-1h3m-2-1h3m-3-2h3m0-1h3m1 11h3m0-6h3m-1 10h3m-3-15h3m-2 7h3m-1-7h3m-2 0h3m-3 5h3m-2 20h3m-2-23h3m-3 8h3m-2-8h3m-3 0h3m-3 6h3m-2-4h3m-3-4h3m-2 3h3m1 1h3m-3 0h3m-2 0h3m-1 6h3m-3-6h3m-2 1h3m-2 0h3m-3 0h3m-1 8h3m12-10h3m0 1h3m2-1h3m-3 6h3m2-9h3m-3 1h3m-2 2h3m-1-4h3m0 1h3m1 2h3m-2 0h3m-3 0h3m-2 1h3m-1-1h3m-2-4h3m-2 19h3m-2 3h3m-3-20h3m-2 6h3m-2 1h3m1-8h3m-2 10h3m-2-11h3m10-3h3"/><path id="g7" d="M152 119h3m-2-6h3m-3-5h3m-1 2h3m-3 1h3m-3-8h3m-3 16h3m-3-1h3m-3 1h3m-2-5h3m-2 13h3m-3-1h3m-3-14h3m-3 9h3m-3-4h3m-2 9h3m-3-8h3m-3-3h3m-3 5h3m-2-3h3m-3-11h3m-3 13h3m-3-11h3m-2-1h3m-3 9h3m-3 0h3m-3-1h3m-2-6h3m-3 5h3m-3 5h3m-3-3h3m-2-12h3m-2 18h3m-2 4h3m-3-9h3m-3-4h3m-3 12h3m-3-11h3m-3 5h3m-2-4h3m-3-13h3m-3 15h3m-2 11h3m-3-4h3m-3-10h3m-3 9h3m-3-2h3m-3 4h3m-3-8h3m-2 9h3m-3-14h3m-2 13h3m-2-11h3m-3 5h3m-2-10h3m-3 20h3m-3-9h3m-2-3h3m-2-1h3m-2 4h3m-3 0h3m-2 1h3m-3-4h3m-2 6h3m-3 3h3m-3-17h3m-2 21h3m-3-3h3m-2-18h3m-3 11h3m-3 9h3m3-26h3m6 0h3m4 12h3m-2-5h3m0 11h3m4-18h3m-2 14h3m-2-3h3m-1-2h3m-1 0h3m2-5h3m-1 6h3m-1-1h3m5 14h3m3-11h3m11-10h3m-3 20h3m9-12h3m-1 5h3m5-5h3m1-7h3m1 1h3m14 0h3m-2 16h3m2-4h3m6-12h3m-2 10h3m-2 4h3m-1-3h3m-3-2h3m-1-7h3m-1 13h3m21-19h3m-1 16h3m20-3h3m10-10h3m7 15h3m2-16h3m-2 5h3m1 2h3m-2 4h3m-2-2h3m-2-4h3m-3 17h3m-2-13h3m-3-1h3m-2-1h3m-2 11h3m-3-9h3m-2-2h3m-3 3h3m-3 12h3m-1 1h3m-3-1h3m-2-11h3m-3 0h3m-3 1h3m-2 8h3m-1 16h3m5-30h3m6 9h3m13-14h3m2 6h3m5 1h3m-1 0h3m-2 0h3m7 1h3m-2-3h3m2-3h3m1-2h3m1 3h3m-3-6h3m-2 9h3m-3-4h3m-2 11h3m-2-11h3m-2 6h3m-3-10h3m-2 7h3m-2-4h3m-3 6h3m0 1h3m-2 5h3m-2-5h3m2-5h3m-2-3h3m10-2h3m4 11h3m16 6h3m4-10h3m-1-3h3m8 5h3m16 14h3m0-11h3m-2 10h3m-3-3h3m-2 5h3m-3-6h3m-2 7h3m-3-8h3m-3 4h3m-3-6h3m-1 0h3m-2 6h3m-3-8h3m-2 12h3m-2-11h3m-3 7h3m-2-3h3m-3-6h3m-3 0h3m-3 13h3m-2 0h3m-2 0h3m-3-12h3m-3 5h3m2-1h3m-1-2h3m3-1h3m-3-19h3m-3 10h3m-2-2h3m-3 14h3m-2 2h3m-3-4h3m-2-3h3m-3 10h3m-2-11h3m-3-10h3m-3 19h3m-3-14h3m-3 4h3m-3 5h3m-1 0h3m-3 8h3m-2-8h3m-3-6h3m-3 13h3m-3-1h3m-2-13h3m-2 8h3m-3 4h3m-2-9h3m-3-1h3m-2-9h3m-3 26h3m-3-12h3m-3 7h3m-3-5h3m-2-3h3m-3-2h3m-3 2h3m-3 0h3m-2-7h3m-3 3h3m-2 3h3m-2-12h3m-3 18h3m-2-6h3m-3-7h3m-3 10h3m-2-13h3m0 0h3m-1 4h3m-2-3h3m-3 2h3m16-3h3m-1 6h3m-1-5h3m-1 12h3m-2-5h3m-2 2h3m-1-9h3m1-20h3m-2 34h3m-2-10h3m-2 5h3m2-8h3m-3 6h3m-1-7h3m-1-3h3m-3 2h3m-2 4h3m-1 4h3m-3 5h3m0-12h3m-2-1h3m-2 7h3m0-1h3m-3-2h3m-1 2h3m-2-1h3m-2-5h3m-3 7h3m-3 9h3m-2-5h3m-2-8h3m-3-3h3m-3 3h3m-3-5h3m-3 6h3m-3 3h3m-2-1h3m-3 3h3m-3-7h3m-3 5h3m-2 7h3m-3-9h3m-3 5h3m-3-2h3m-3 4h3m-3-3h3m-2-12h3m-2 18h3m-3-12h3m-3 9h3m-2-12h3m-3-3h3m-3 2h3m-3 4h3m-1-11h3m-3 20h3m-3-10h3m-2 0h3m-2 11h3m-3-12h3m-3 11h3m-2-18h3m-3 16h3m-3-6h3m-2 2h3m-2-4h3m-3 0h3m-2-6h3m-3 14h3m-2 1h3m-3 0h3m-3-3h3m-2 5h3m-3 3h3m-3-13h3m-2 4h3m-3-1h3m-2 6h3m-3-1h3m-2 0h3m-3 3h3m-3 4h3m-3-28h3m-3 14h3m-3-1h3m-2 4h3m-3-16h3m-3 11h3m-3 2h3m-3 6h3m-2-2h3m-2-18h3m-3 4h3m-3 15h3m-3 3h3m-2-19h3m-3 12h3m-2 13h3m-3-13h3m-3-8h3m-2 18h3m-3 0h3m-3 3h3m-3-23h3m-3 3h3m-2-2h3m-2 0h3m-2 8h3m-2 4h3m2-11h3m1 7h3m-2 6h3m5-7h3m-2 8h3m-3 3h3m-2-2h3m-3-9h3m-3-2h3m-3 10h3m-2-3h3m-3 0h3m-2 2h3m-3-6h3m-3 6h3m-3-6h3m-3 2h3m-2-1h3m-3-4h3m-2 1h3m-2-3h3m-3 5h3m-3 2h3m-3-3h3m-2 9h3m-3-3h3m-3-2h3m-3 1h3m-2 3h3m-3-7h3m-3-14h3m-3 13h3m-3 5h3m-3-12h3m-3 3h3m-1 6h3m-3 3h3m-3 1h3m-2 0h3m-2-3h3m-3 13h3m-3-8h3m-2-5h3m-2 10h3m-2-24h3m-2 15h3m-3-13h3m-2 22h3m-3 2h3m-2-12h3m-3-1h3m-3-8h3m-2 10h3m-3 5h3m-2-1h3m-3-4h3m-3-9h3m-3 14h3m-2-5h3m-3 8h3m-2-26h3m-3 23h3m-3-13h3m-2 15h3m-3 2h3m-3-2h3m-2-3h3m-3 3h3m-3-5h3m-3-17h3m-3 10h3m-3 1h3m-3 11h3m-2-10h3m-2 5h3m-3-3h3m-3 5h3m-2-5h3m-2-10h3m-3 10h3m-3 2h3m-3-8h3m-2 16h3m-3-19h3m-3 16h3m-3-14h3m-2 2h3m-3 7h3m-3-6h3m-2-3h3m-3-9h3m-2 9h3m-3 13h3m-3-10h3m-3 14h3m-2-4h3m-3-4h3m-3-9h3m-2 1h3m-3 12h3m-3-12h3m-2-19h3m-3 27h3m-3 7h3m-2-9h3m-3 3h3m-3 2h3m-2-9h3m-3 9h3m-3-11h3m-2 0h3m-2 11h3m-2-6h3m1 4h3m-1 3h3m-2-12h3m-3-3h3m2 6h3m-2-5h3m-1-3h3m-3 15h3m2-3h3m-2-3h3m-2 5h3m-2-3h3m-3-17h3m-2 20h3m-2-5h3m-2-11h3m-1 21h3m-3-10h3m-2-4h3m-3 6h3m0-6h3m-3 16h3m0-18h3m-2-2h3m-3 20h3m-1 0h3m-2-23h3m-1 18h3m-2-5h3m-1 4h3m-2-1h3m-3-6h3m-3 2h3m1 7h3m-3-10h3m0 3h3m-3 0h3m5-7h3m-2 14h3m-3-18h3m-3 3h3m-3 14h3m-2-1h3m-3-12h3m-2 9h3m-3-3h3m-3 5h3m-3-9h3m-3 5h3m-2 0h3m-3 6h3m-3 0h3m-2-19h3m-3 15h3m-2 0h3m-3 2h3m-3 6h3m-2-24h3m-3 7h3m-3-7h3m-2 2h3m-3 16h3m-3-23h3m-2 22h3m-2-12h3m-1 8h3m-3-11h3m-3 14h3m-2-13h3m-2 3h3m-3 5h3m-1-3h3m-3 5h3m-3 1h3m-2-9h3m-3 7h3m-3-4h3m-3 7h3m-2-8h3m-3 8h3m-3-5h3m-2-5h3m-3 8h3m-3 3h3m-2-7h3m-3 5h3m-3-3h3m-2-1h3m-3-6h3m-3 7h3m-3 4h3m-3-1h3m-2-8h3m-2 17h3m-3-9h3m-3 0h3m-3 4h3m-3-4h3m-2-2h3m-3 1h3m-2-9h3m-3-1h3m-3 7h3m-3 1h3m-3 2h3m-3 6h3m-2 3h3m-3-23h3m-3 15h3m-2-8h3m-3 8h3m-2 0h3m-3 2h3m-2-10h3m-3 1h3m-3 1h3m-3-7h3m-3 10h3m-3 4h3m-3 3h3m-2-9h3m-3-6h3m-2-3h3m-3 18h3m-3 3h3m-3-14h3m-2 4h3m-3 7h3m-2-7h3m-3-12h3m-3 20h3m-3 4h3m-2-17h3m-3 4h3m-3 3h3m-3 2h3m-3 4h3m-2-10h3m-3-5h3m-3 7h3m-3 2h3m-3 5h3m-3-17h3m-2 12h3m-1-1h3m-1 1h3m-3 2h3m-2-1h3m-2 4h3m-2-19h3m-1 18h3m-2-5h3m0-10h3m-2 7h3m-3-3h3m-2 10h3m-2-14h3m-1 3h3m-3 6h3m-2-10h3m-3 3h3m-3 11h3m-3-8h3m-3 9h3m-2-17h3m-3 2h3m-2 4h3m-3 2h3m-3 1h3m-3 2h3m-3-6h3m-2 1h3m-1 4h3m-3 6h3m-2 0h3m-3-1h3m-3 1h3m-3-17h3m-2 13h3m-3-6h3m-3 3h3m-3-5h3m-3 1h3m-3-2h3m-2 13h3m-3-4h3m-3-9h3m-2 11h3m-3-13h3m-3 0h3m-2 9h3m-3 4h3m-3-8h3m6 10h3m-3-11h3m-2 27h3m5-31h3m1 11h3m-1 0h3m-3-6h3m-1 8h3m-3 1h3m-3-8h3m-3 0h3m-1 11h3m-3-13h3m-1 19h3m-3-19h3m-3 1h3m-2 9h3m-3 15h3m-1-12h3m-1-16h3m0 27h3m0-29h3m0 19h3m-3-1h3m-3-19h3m-3 4h3m0 27h3m0-25h3m1-1h3m-3 3h3m-1-7h3m-3 2h3m2-5h3m3 6h3m0-11h3m0 14h3m-3-7h3m-3 10h3m-2-2h3m-3 5h3m-3 8h3m-2-10h3m-3-1h3m-2 4h3m-2-7h3m-3-1h3m-3 20h3m-2-12h3m-3 4h3m-3 4h3m-2-11h3m1 0h3m-1-1h3m15 3h3m-3-8h3m-2 10h3m-2-3h3m-3 5h3m-3-6h3m-3 1h3m-3-10h3m-2 13h3m-2 6h3m-3-7h3m-3-4h3m-2-10h3m-2 10h3m-3-1h3m-2 12h3m-3-5h3m-3-5h3m-2-2h3m-3-4h3m-2 13h3m-3-5h3m-2 7h3m-3-16h3m-2 15h3m-3-9h3m-3 8h3m-3-3h3m-3-12h3m-2 8h3m-3 5h3m-2-2h3m-3 1h3m-3 13h3m-3-25h3m-1-10h3m-3 11h3m-2 13h3m-2-25h3m-3 11h3m-1-2h3m-3 16h3m-3-1h3m-2-25h3m-3 15h3m-3 12h3m-2 5h3m-3-8h3m-3 1h3m-2-23h3m-3 24h3m-3-8h3m-3 7h3m-3-5h3m-2 10h3m-3-10h3m-3 3h3m-3 0h3m-2-3h3m-3 1h3m-2 7h3m-3-7h3m-3-3h3m-2-17h3m-3 23h3m-2-4h3m-3 3h3m-3-4h3m-2-1h3m-2 16h3m-3-29h3m-2 15h3m-3 2h3m-2 3h3m-3-1h3m-3 10h3m-3-3h3m-3-5h3m-2 0h3m-3-3h3m-3-3h3m-3 8h3m-3-13h3m-2 12h3m-3 2h3m-3 3h3m-3-15h3m-3 0h3m-3 8h3m-3-3h3m-3-2h3m-2 12h3m-3-7h3m-3-2h3m-2 6h3m-3 2h3m-3-4h3m-3 2h3m-3-3h3m-3-22h3m-3 28h3m-2 0h3m-3-12h3m-3 10h3m-3-5h3m-2 6h3m-3-19h3m-3 6h3m-3 15h3m-2-22h3m-2 23h3m-3-27h3m-2 2h3m-2 24h3m-1-22h3m-3 1h3m-3 2h3m-2-1h3m-3 2h3m0 1h3m-3-6h3m-3 6h3m-3 3h3m-2-7h3m-3-10h3m-2 23h3m-3-4h3m-2 0h3m0-2h3m-3 5h3m-3-2h3m-2-17h3m-3 20h3m-2-4h3m-1-11h3m-3 11h3m-2-9h3m-3 6h3m-3 0h3m-3-2h3m-2-2h3m-2 2h3m-3-5h3m-1 18h3m-2-6h3m-2 1h3m-2 7h3m-2-3h3m-3-5h3m-1 1h3m-3 3h3m-2-10h3m-3 7h3m-2-29h3m-2-3h3m-3 36h3m-3-21h3m-2-11h3m-2 17h3m-3-12h3m-3 11h3m-2 18h3m-3-36h3m-2-2h3m-2 4h3m-2 27h3m-2-31h3m-3 10h3m-3 1h3m-1 1h3m-3 21h3m-2-23h3m-2-6h3m-3 5h3m-3 24h3m-3-5h3m-3 3h3m-2 10h3m-3-10h3m-2 3h3m-3 4h3m-3-6h3m-3-6h3m-2 8h3m-2-2h3m-1 9h3m-2 4h3m-3-11h3m-2 2h3m-2-3h3m-2 0h3m-3 10h3m-2-9h3m-2 1h3m-1-35h3m-2 31h3m-3 5h3m-2-1h3m-2-1h3m-3 4h3m-2 0h3m-2 1h3m-2 1h3m-3-2h3m-2-5h3m-3 4h3m-2 8h3m-2-3h3m-3-11h3m-3 13h3m-2-10h3m-3-11h3m-3 11h3m-3 1h3m-2-12h3m-2 9h3m-2 2h3m-2-2h3m-2-11h3m-1 10h3m-1-8h3m-3 9h3m-3 0h3m-3 4h3m-2-30h3m-2 27h3m-2-2h3m-2 2h3m-2-7h3m-3 10h3m-2-3h3m-3-23h3m-1 24h3m0 0h3m0-29h3m-3 40h3m-1-41h3m-3 32h3m-3 16h3m-2-20h3m-2 17h3m-3-1h3m-3-6h3m-3 6h3m-3 1h3m-3-5h3m-2-30h3m-3 33h3m-3 2h3m-2 1h3m-3-2h3m-2-7h3m-3 11h3m-3 0h3m-3-8h3m-3 0h3m-3-9h3m-2 4h3m-3-7h3m-3 14h3m-3-7h3m-2 0h3m-3-34h3m-2 33h3m-3-7h3m-3 11h3m-3 2h3m-2-7h3m-2 5h3m-3-10h3m-3 12h3m-2-38h3m-2 32h3m-3 3h3m-3-6h3m-2 6h3m-3-8h3m-2 6h3m-3 5h3m-2-43h3m-3 8h3m-2 0h3m-3 27h3m-2-24h3m-3 31h3m-3-8h3m-2 3h3m-2-3h3m-3-3h3m-3 13h3m-3-39h3m-3 37h3m-2-9h3m-3 11h3m-3-34h3m-2 27h3m-3-33h3m-3 32h3m-3-2h3m-2 7h3m-2-40h3m-3 8h3m0-9h3m-2 3h3m-3 31h3m-2-34h3m-2 4h3m-3 25h3m-3-23h3m-2 1h3m-3 35h3m-2-20h3m-3 22h3m-3 2h3m-2-12h3m-3-28h3m-2-2h3m-3 2h3m-3 28h3m-3 8h3m-3-31h3m-3-1h3m-2 24h3m-3 7h3m-2-11h3m-3 7h3m-2-2h3m-3-1h3m-2 13h3m-3-15h3m-3 8h3m-2-4h3m-3-28h3m-2 30h3m-3-6h3m-3 8h3m-3-5h3m-3 6h3m-3 1h3m-2-2h3m-3-4h3m-3 2h3m-2 7h3m-3-15h3m-3 13h3m-3-8h3m-3 2h3m-2 7h3m-3-4h3m-3 1h3m-2 2h3m-3-44h3m-3 47h3m-3-14h3m-2 11h3m-2 1h3m0-2h3m-3 0h3m-2 0h3m-2 5h3m-1-3h3m-2 4h3m-2-15h3m-3 10h3m-2-7h3m-3 8h3m-3 3h3m-3 2h3m-2-14h3m-3 6h3m-3 4h3m-3 2h3m-2 0h3m-3 2h3m-2-11h3m-3-4h3m-3 2h3m-2 8h3m-3-13h3m-3 15h3m-3-5h3m-2-4h3m-3 8h3m-2-3h3m-3-10h3m-2 6h3m-3 4h3m-3-2h3m-3 4h3m-2-7h3m-3 9h3m-2-4h3m-3-2h3m-3-6h3m-2 6h3m-3-2h3m-2 11h3m-3-6h3m-2 2h3m-3-2h3m-2-6h3m-3 3h3m-3-5h3m-3 9h3m-2-5h3m-3 3h3m-3 0h3m-2 0h3m-3 1h3m-3 4h3m-2-5h3m-3-9h3m-3 7h3m-2 7h3m-3 3h3m-3-21h3m-2 7h3m-3 7h3m-2-1h3m-3-2h3m-2 3h3m-3 0h3m-3 0h3m-2 7h3m-3-7h3m-3 0h3m-2 1h3m-3-1h3m-3-1h3m-3 4h3m-3-1h3m-2-13h3m-3 13h3m-3-13h3m-2 1h3m-3 14h3m-3 3h3m-3-17h3m-3 15h3m-2-1h3m0 0h3m-3 4h3m-3-2h3m-2-19h3m-3 18h3m-2-2h3m-1-4h3m-3 6h3m-1-1h3m-3 1h3m-2-3h3m-2 3h3m-3 1h3m-2-7h3m-3 5h3m-3-2h3m-2-3h3m-3 3h3m-2-3h3m-3 2h3m-3-5h3m-2 0h3m-3 2h3m-2 2h3m-3 7h3m-2-7h3m-3-7h3m-3 2h3m-2 12h3m-3-11h3m3 2h3m-2-2h3m-3-6h3m-3 2h3m-3 0h3m-1-1h3m-1 2h3m-2-6h3m0-2h3m0 7h3m-3 5h3m-3-9h3m-2 16h3m-3-12h3m-2 10h3m-3-14h3m-2-3h3m-3 3h3m-2 0h3m-2 13h3m-3-14h3m-3 2h3m-3 19h3m-1-22h3m-3 19h3m-2-19h3m-3-19h3m-1 20h3m-2 5h3m-1-4h3m-3 5h3m4-21h3m-2 20h3m0-6h3m-3-14h3m-3 31h3m-3-7h3m0 5h3m-2-12h3m-2-22h3m-3-5h3m-2 34h3m-3-2h3m-2 4h3m-3-32h3m-2 32h3m0 8h3m-2-30h3m0-25h3m-3 21h3m-2 8h3m-3-12h3m-3-5h3m-3 5h3m-3 5h3m-2-7h3m-3 7h3m-2-18h3m-3-4h3m-3 22h3m-1-11h3m-3 11h3m-3 0h3m-1 2h3m-3-14h3m-3 12h3m-2 8h3m-1-6h3m-3 19h3m-2-20h3m-3 2h3m-3 3h3m-3-23h3m-2-12h3m-3 27h3m-3-13h3m-2 5h3m-2 9h3m-3 6h3m-2-28h3m-3 10h3m-1 14h3m-3-1h3m-3-12h3m-2 1h3m-3 3h3m-2 30h3m-3-29h3m-3 7h3m-2 0h3m-3-21h3m-3 16h3m-2 4h3m-3 2h3m-3-18h3m-2-3h3m-3 19h3m-3 3h3m-3-14h3m-2 2h3m-3 25h3m-3-17h3m-3-2h3m-2 5h3m-3-11h3m-3 8h3m-3 5h3m-2-4h3m-3-19h3m-3 11h3m-3 11h3m-3-6h3m-2 11h3m-3-1h3m-3-4h3m-3 7h3m-3-16h3m-3 6h3m-2 24h3m-3-30h3m-3 11h3m-3-24h3m-3 18h3m-2-5h3m-3 6h3m-3-4h3m-3-4h3m-3 11h3m-3 2h3m-2-24h3m-3 14h3m-3 3h3m-3-3h3m-3 13h3m-3-8h3m-2 1h3m-3 18h3m-3-13h3m-3-12h3m-2-13h3m-3 14h3m-3-8h3m-2 9h3m-3 5h3m-3-4h3m-2-1h3m-3-2h3m-3 6h3m-3 9h3m-3-9h3m-2-19h3m-2 17h3m-3-3h3m-3 0h3m-3 8h3m-2-3h3m-3 5h3m-2-40h3m-3 38h3m-3-15h3m-2 11h3m-3-6h3m-3 3h3m-2 11h3m-3-6h3m-3 2h3m-2 4h3m-2 11h3m-3-19h3m-2-3h3m-3-9h3m-3 1h3m-3 14h3m-2-3h3m-3-3h3m-3-16h3m-2 5h3m-3 13h3m-3-6h3m-2-7h3m-2-7h3m-3 5h3m-3 14h3m-3 11h3m-3-26h3m-3 13h3m-2-9h3m-3-3h3m-2 43h3m-3-48h3m-2 3h3m-3 5h3m-3-8h3m-2 14h3m-1-7h3m-3-5h3m-2 28h3m-2-17h3m-3 3h3m-3-5h3m-3-9h3m-2 17h3m-2 2h3m-3 3h3m-2-4h3m-3 3h3m-3-15h3m-2 16h3m-3-10h3m-3-5h3m-2 4h3m-2 14h3m-3 1h3m-3-15h3m-3-11h3m-3 18h3m-3 5h3m-2-20h3m-2 14h3m-3-4h3m-3 10h3m-3-17h3m-3 14h3m-2-8h3m-3 1h3m-2-12h3m-3 16h3m-3-9h3m-2 17h3m-3 4h3m-3 19h3m-3-28h3m-2-2h3m-3-18h3m-3 5h3m-3 4h3m-3 5h3m-3-3h3m-2-9h3m-3 11h3m-2-3h3m-3 17h3m-3-4h3m-3-12h3m-3 28h3m-2-33h3m-3 11h3m-3-14h3m-3 9h3m-1-1h3m-2-5h3m-2 23h3m-3-25h3m-3 15h3m-2 11h3m-2-1h3m-2 7h3m3 4h3m0-9h3m-3-23h3m-3 2h3m-2-1h3m-2 14h3m-3-17h3m-3 1h3m0 10h3m-3-13h3m-2 1h3m-3 2h3m-3 8h3m-1 11h3m-3-30h3m-2 13h3m-3-12h3m-2 31h3m-3-32h3m-3 2h3m-2 12h3m-3-2h3m-3 25h3m-1-9h3m-1-3h3m-2-3h3m-3 10h3m-3-4h3m-3 8h3m-3-7h3m-2 1h3m-2-7h3m-3-5h3m-3 12h3m-2-12h3m-2-8h3m-2 18h3m-3 3h3m-2-22h3m-3 24h3m-3-1h3m-3 7h3m-2-13h3m-3 3h3m-2-5h3m-3 15h3m-2-4h3m-2-10h3m-3 1h3m-3 14h3m-2-12h3m-2-2h3m-1 15h3m-1-1h3m-3-26h3m-2 13h3m-2-13h3m-3 27h3m-2-30h3m-3-3h3m0 31h3m-3-19h3m-3 6h3m0-27h3m-2 14h3m-2-21h3m0 39h3m3-32h3m1 41h3m-2-13h3m-2-17h3m-3 17h3m0 0h3m-2-16h3m0 14h3m2-25h3m-2-13h3m-2 18h3m-3-3h3m-3 33h3m-2-33h3m-3 22h3m-3-11h3m-3-23h3m-2 6h3m-3 13h3m-3 17h3m-1-27h3m-3 8h3m-3 21h3m-3-23h3m-3 2h3m-2 8h3m-3-12h3m-3 20h3m-2-1h3m-3 7h3m-3-23h3m-2 8h3m-3-3h3m-3 2h3m-2 4h3m-3-18h3m-3 3h3m-2 24h3m-2-4h3m-2-16h3m-2-3h3m-2 22h3m-3-8h3m-2 15h3m-3 7h3m-3-26h3m-3 9h3m-3-14h3m-3 0h3m-2 7h3m-3-1h3m-2 4h3m-3 23h3m-3-42h3m-2 21h3m-3-8h3m-3 5h3m-3-16h3m-2 41h3m-2-27h3m-3-17h3m-3 2h3m-2 13h3m-2 0h3m-3-17h3m-2 21h3m-3 25h3m-2-53h3m-2 28h3m-3-10h3m-3 35h3m-2-27h3m-3-23h3m-2 3h3m-3 11h3m-3 5h3m-3 15h3m-2 15h3m-3-41h3m-2 13h3m-3-16h3m-3 3h3m-3 42h3m-3-20h3m-2-17h3m-2 18h3m-3-12h3m-3 32h3m-3-27h3m-2-4h3m-3-14h3m-3 9h3m-2 17h3m-3-2h3m-2 8h3m-3-7h3m-2 7h3m-2-34h3m-2 22h3m-3-7h3m-3 30h3m-2-30h3m-3-17h3m-2-5h3m-3 3h3m-2 48h3m0-1h3m2-24h3m-1 15h3m-3-21h3m-3 4h3m-3-17h3m-2 19h3m-3-21h3m-2 17h3m-2 3h3m-2-23h3m-3 36h3m-3 7h3m-2-28h3m-3 9h3m-3-4h3m-3-20h3m-3 29h3m-3 2h3m-2 8h3m-2-17h3m-2-21h3m-3 5h3m-3 35h3m-3 3h3m-3-20h3m-3-14h3m-2 2h3m-3 15h3m-3 17h3m-2-4h3m-3 0h3m-3 2h3m-3 0h3m-2 4h3m-3-27h3m-2 16h3m-3-6h3m-2 1h3m-3 4h3m-3 3h3m-3 6h3m-2-10h3m-3 1h3m-3 7h3m-2-14h3m-2 3h3m-3 1h3m-3 7h3m-2-6h3m-3 2h3m-3-16h3m-2 15h3m0 7h3m-2-22h3m-2 28h3m-2-6h3m-3 3h3m-3-9h3m-2 0h3m-3 7h3m-3-4h3m-2-6h3m-2 3h3m-2 5h3m-2-3h3m-2 0h3m-2-38h3m0 22h3m-3 14h3m-3 16h3m-2-9h3m-2-22h3m-3 30h3m-2-31h3m-3 18h3m-2 6h3m-3 5h3m-2-14h3m-2 2h3m-3 2h3m-2 11h3m-1-13h3m0 10h3m-2-10h3m-1-10h3m-3 7h3m2 15h3m-2 1h3m-3-4h3m-1-3h3m-1 4h3m-3 2h3m-2-4h3m-3 1h3m-2 3h3m-3-4h3m-2-15h3m-3 14h3m-1-8h3m-3 9h3m-3-7h3m-1 7h3m-3-13h3m-2 14h3m-2 10h3m-3-35h3m-2 27h3m-2-7h3m-3 16h3m-2-27h3m-2-18h3m-3 8h3m-1 4h3m-3-14h3m-3 20h3m-3 1h3m-3 1h3m-2-8h3m-2 13h3m-3-2h3m-2-8h3m-3 5h3m-2-8h3m-3 29h3m-3-13h3m-3-18h3m-3-7h3m-2 8h3m-3 6h3m-3 3h3m-2-5h3m-3 0h3m-3 0h3m-3-5h3m-3-13h3m-2 19h3m-3-21h3m-3-6h3m-3 15h3m-3-9h3m-3 15h3m-2-24h3m-3 17h3m-3 4h3m-3-13h3m-2 17h3m-3 4h3m-3-3h3m-3 2h3m-3-1h3m-3-20h3m-3 7h3m-3-10h3m-2 35h3m-3-38h3m-3 26h3m-3 2h3m-2-21h3m-3 46h3m-3-30h3m-3-24h3m-3 28h3m-3-27h3m-3 13h3m-2 12h3m-2 2h3m-3-10h3m-3 11h3m-3-7h3m-3-20h3m-2 25h3m-3-21h3m-3 23h3m-3-28h3m-2 18h3m-3 1h3m-2 6h3m-3-24h3m-3 16h3m-3-12h3m-2 16h3m-2 4h3m-3 12h3m-3-13h3m-2-8h3m-3 34h3m-2-16h3m-3-29h3m-2 22h3m-3-14h3m-3 30h3m-2-29h3m-3 14h3m-2 3h3m-3-2h3m-3 24h3m-3-10h3m-2-14h3m-3-20h3m-2 11h3m-3 13h3m-3-16h3m-3-2h3m-3 10h3m-3 19h3m-2-18h3m-3-20h3m-3 1h3m-2 16h3m-2-2h3m-3 5h3m-3-4h3m-3 2h3m-3 4h3m-3 17h3m-2-18h3m-3-6h3m-3 0h3m-3-2h3m-2 1h3m-3-6h3m-3 10h3m-3 1h3m-3-10h3m-3 15h3m-3-24h3m-2 27h3m-3-9h3m-3 1h3m-3-10h3m-3 3h3m-3 2h3m-3-5h3m-3 7h3m-3 4h3m-3 1h3m-3 1h3m-2-3h3m-3-8h3m-3 6h3m-3-1h3m-3 3h3m-2-1h3m-3-1h3m-2-20h3m-3 20h3m-2 4h3m-3-7h3m-3 3h3m-2-13h3m-3 3h3m-3-12h3m-1 39h3m-2-40h3m-3 35h3m-3 17h3m-2-2h3m-3-51h3m-2 40h3m-3 13h3m-3-50h3m-2 40h3m-3 9h3m-3-14h3m-3 6h3m-3 10h3m-3-14h3m-1-14h3m-3 12h3m-3 4h3m-3-35h3m-2 41h3m-3-10h3m-3 11h3m-3-46h3m-2 47h3m-3-49h3m-3 52h3m-3-52h3m-1 47h3m-3 7h3m-3-56h3m-2 5h3m-3 18h3m-2-21h3m-2 4h3m-3 39h3m-3-21h3m-3-26h3m-3 4h3m-3-1h3m-2 16h3m-3 22h3m-3 15h3m-3-49h3m-2 38h3m-3-44h3m-3 45h3m-3-37h3m-2 15h3m-3 20h3m-1-22h3m-3 6h3m-3-18h3m-2 3h3m-3 32h3m-3 15h3m-3-48h3m-3-4h3m-3 29h3m-3-24h3m-2-5h3m-2 40h3m-3 11h3m-3 4h3m-3-16h3m-2-27h3m-3 27h3m-3-45h3m-3 3h3m-3 62h3m-3-2h3m-2-16h3m-3 10h3m-3-5h3m-2-10h3m-2 2h3m-3 17h3m-2-22h3m-3-22h3m-3 45h3m-2-16h3m-3-4h3m-3 16h3m-2-1h3m-3 3h3m-2-3h3m-2-1h3m-2-20h3m-3 22h3m-2-44h3m-3 37h3m-2-8h3m-3 12h3m-2-1h3m-3 7h3m-3-16h3m-2 3h3m-1 7h3m-3-24h3m-3 28h3m-2-17h3m-2 12h3m-2-19h3m-2 26h3m-1 2h3m-2-16h3m1 9h3m-1-35h3m-2 25h3m-3-1h3m-3-25h3m-3 18h3m-3 14h3m-2 4h3m-2-11h3m-1 8h3m-3-3h3m-3 1h3m-3-9h3m-2 3h3m-3 2h3m-3 4h3m-2-30h3m-2 30h3m-3-5h3m-2 5h3m-3-9h3m-2-5h3m-3 15h3m-3 11h3m-3-16h3m-2 3h3m-3-5h3m-3-4h3m-2 14h3m-3 4h3m-2-14h3m-2 4h3m-2 6h3m-3-39h3m-2 33h3m-3-27h3m-3-3h3m-3 38h3m-3-34h3m-3-8h3m-3 46h3m-2-6h3m-3-6h3m-3-19h3m-3 30h3m-3-43h3m-2 32h3m-3 10h3m-2-37h3m-3 37h3m-3 5h3m-3-10h3m-3 6h3m-3-44h3m-1-1h3m-3 44h3m-3 2h3m-3-4h3m-2-2h3m-3 3h3m-2-9h3m-3 7h3m-2 5h3m-2-40h3m-1 40h3m-3-40h3m-3 42h3m-1-3h3m-2-9h3m-3-7h3m-3-20h3m-2 24h3m-3-4h3m-3 5h3m-2 3h3m-3 0h3m-3 6h3m-3-14h3m-3 5h3m-3-34h3m-2 44h3m-3-12h3m-3-2h3m-3 4h3m-3-7h3m-3 9h3m-2 7h3m-3-16h3m-3 10h3m-3 0h3m-2-3h3m-3 4h3m-3 2h3m-3-5h3m-3 0h3m-3 3h3m-3 0h3m-1-2h3m-3-2h3m-2 0h3m-2 8h3m-3-11h3m-2-1h3m-3 5h3m-3-4h3m-3-3h3m-1 0h3m-2-3h3m-3 3h3m-3-30h3m-2 38h3m-3-8h3m-2 8h3m-3 0h3m-2-3h3m-3-5h3m-3-2h3m-3 3h3m-3 3h3m-1 4h3m-3-6h3m-2-7h3m-3 23h3m-2-19h3m-1 19h3m-3-12h3m-3 5h3m-2-5h3m-3 15h3m-3-4h3m-1-18h3m-2 7h3m-3-2h3m-3 7h3m-3 6h3m-3 1h3m-3-1h3m-1-8h3m-2 13h3m-3-19h3m-2 0h3m-3 12h3m-3 4h3m-3-5h3m-2-2h3m-3 0h3m-2-5h3m-3-3h3m-2 1h3m0-2h3m-2 11h3m-1 6h3m-1 2h3m-2-10h3m-2-3h3m-2 4h3m-3 2h3m-1 2h3m-2-2h3m-3-8h3m-3 11h3m-3-4h3m-3 3h3m-2 1h3m-3-7h3m-3-23h3m-3 25h3m-2-8h3m-3 5h3m-2-3h3m-3 10h3m-3-39h3m-2 29h3m-3-2h3m-3 8h3m-3-30h3m-1 4h3m-2 15h3m-3-11h3m-1 26h3m-3-51h3m-3 39h3m-3 3h3m-3 5h3m-2-8h3m-3 3h3m-3-19h3m-2 4h3m-2 26h3m-2-21h3m-3 4h3m-2 4h3m-3-16h3m-3 17h3m-2 3h3m-3-7h3m-2 3h3m-2 5h3m-3-6h3m-3 0h3m-1-2h3m-3 8h3m-2-13h3m-2 4h3m-3 2h3m-3 6h3m-2-11h3m-2-25h3m-3 29h3m-2-32h3m-3 30h3m0-8h3m-2 3h3m-2 12h3m0-6h3m-2-9h3m-1 9h3m-3-5h3m-3-9h3m-2 1h3m-2 12h3m-3 4h3m-3-11h3m-2-2h3m-3-5h3m-2 6h3m2 6h3m-3-9h3m-2 0h3m2 11h3m-3-4h3m-2 7h3m-2-7h3m-3-3h3m-2 8h3m-3-5h3m-3 1h3m-3-5h3m-2 7h3m-3 3h3m-3-1h3m-3-6h3m-2-2h3m-3 4h3m-2 9h3m-3-8h3m-3 3h3m-2-41h3m-3 35h3m-3 7h3m-2-45h3m-3 47h3m-2-9h3m-2 12h3m-3-7h3m-2-44h3m-3 45h3m-2 5h3m-1-7h3m-3 10h3m-2-13h3m-3-34h3m-3 35h3m-3 8h3m-1-6h3m-3 7h3m-2-11h3m-2 15h3m-2-2h3m-2-17h3m-3 1h3m-3 6h3m-3 9h3m-2-16h3m-3 15h3m-3-4h3m-3-6h3m-2-2h3m-2 1h3m-3 12h3m-3-11h3m-3 0h3m-3 14h3m-2-16h3m-3-1h3m-3 7h3m-3-7h3m-2 15h3m-3-18h3m-2 8h3m-3 8h3m-2-1h3m-3 1h3m-3-13h3m-3 1h3m-3 8h3m-1-10h3m-2 6h3m-3 1h3m-2-9h3m-3 3h3m-2-15h3m-1 21h3m-3 10h3m-2-8h3m-2-34h3m-3 5h3m-2 25h3m-3 7h3m-2-24h3m-3-11h3m-3 39h3m-2-28h3m-2 25h3m-3-30h3m-3 33h3m-3-33h3m-3 31h3m-3 3h3m-2-12h3m-2-18h3m-3-2h3m-3 5h3m-3 36h3m-2-14h3m-3-35h3m-3 9h3m-2-17h3m-3 43h3m-3-36h3m-3 4h3m-3 0h3m-3 38h3m-2-13h3m-3-31h3m-3 17h3m-2-23h3m-3 15h3m-3 15h3m-3 1h3m-3 14h3m-2-30h3m-3 17h3m-3-8h3m-3 36h3m-3-49h3m-3 3h3m-2-16h3m-3 48h3m-3 2h3m-2-42h3m-3 5h3m-3 2h3m-3-1h3m-3 46h3m-3-52h3m-3 29h3m-2-12h3m-3 27h3m-2 0h3m-3 6h3m-3-51h3m-2-6h3m-3-1h3m-3 21h3m-3 31h3m-2 2h3m-3-47h3m-2 14h3m-3-14h3m-3 36h3m-3-18h3m-3 3h3m-2-26h3m-3-3h3m-2 7h3m-3 2h3m-3 44h3m-3-47h3m-2 15h3m-3-15h3m-3 40h3m-3-38h3m-3 45h3m-3-32h3m-3 32h3m-3-1h3m-3 1h3m-3-51h3m-2 0h3m-3 14h3m-3-11h3m-2 18h3m-3-19h3m-3-5h3m-3 1h3m-3 14h3m-3-16h3m-3 42h3m-3-26h3m-3 3h3m-2 43h3m-3-38h3m-3 31h3m-3-1h3m-3-15h3m-2-27h3m-3 38h3m-3-49h3m-3 9h3m-3-8h3m-3 20h3m-3-24h3m-3 55h3m-2-47h3m-3 56h3m-3-6h3m-3-58h3m-3 12h3m-2 44h3m-3-49h3m-3 41h3m-3 9h3m-3-57h3m-3 38h3m-2-27h3m-3 0h3m-3 53h3m-3-55h3m-3 27h3m-2 14h3m-3 4h3m-3-53h3m-3 0h3m-3 7h3m-3 38h3m-3 7h3m-3-21h3m-3 12h3m-2 8h3m-3-39h3m-3-3h3m-3 41h3m-3 5h3m-3-28h3m-2 23h3m-3-38h3m-2 22h3m-3-20h3m-3-4h3m-3 42h3m-3-3h3m-2 0h3m-3-37h3m-3-2h3m-3 46h3m-3-57h3m-3 48h3m-3-32h3m-3 36h3m-2-38h3m-3-3h3m-3-1h3m-3 38h3m-3 4h3m-3-41h3m-3 40h3m-3-19h3m-3-5h3m-3 27h3m-3-18h3m-3 18h3m-2-21h3m-3 15h3m-3-34h3m-3 43h3m-2-24h3m-3-18h3m-3-5h3m-3 40h3m-3-36h3m-3 16h3m-2 19h3m-3 7h3m-3-44h3m-2 41h3m-3-38h3m-3 0h3m-3 32h3m-3-11h3m-2-23h3m-3-3h3m-2 39h3m-3-34h3m-3-14h3m-2 47h3m-3 0h3m-3-32h3m-3 17h3m-2-23h3m-3 5h3m-3 0h3m-3-12h3m-2 34h3m-3 7h3m-2-31h3m-2 33h3m-3-32h3m-3 22h3m-3-20h3m-2 1h3m-3 1h3m-2 36h3m-3-10h3m-3-25h3m-3 31h3m-3-11h3m-3-19h3m-3 2h3m-2 27h3m-3-4h3m-3-34h3m-3 31h3m-2 25h3m-3-24h3m-2 4h3m-3 17h3m-3-15h3m-2 4h3m-3-5h3m-2 14h3m-3-48h3m-3 39h3m-3-40h3m0 6h3m-3 38h3m-2-1h3m-1-4h3m-3 0h3m-3 4h3m0 11h3m-1-14h3m-1-6h3m-2 10h3m-1-11h3m-3 9h3m-1 0h3m-2-38h3m-3 6h3m0 31h3m-2 2h3m-1-2h3m-3 5h3m-2 6h3m-1-52h3m-2 49h3m-2 1h3m-3 2h3m-1-11h3m-2 11h3m-2-44h3m-3 41h3m-2-20h3m-3 26h3m-2-3h3m-3-1h3m-1 0h3m-3-17h3m-2 21h3m-3-3h3m-2-16h3m-3-9h3m-3 14h3m-3 9h3m-3-4h3m-2 7h3m-3-6h3m-3 5h3m-3-6h3m-2 6h3m-3-18h3m-3 9h3m-3 6h3m-2 4h3m-3-17h3m-3 8h3m-3 5h3m-3-6h3m-2 1h3m-3 5h3m-3-13h3m-2 16h3m-3 0h3m-3-17h3m-3 11h3m-2-37h3m-3 35h3m-3 5h3m-2 3h3m-3-17h3m-3 6h3m-3 14h3m-2-11h3m-2-10h3m-3 18h3m-3-5h3m-3 6h3m-2-18h3m-3 19h3m-2-8h3m-2 3h3m-3 2h3m-3-4h3m-2-1h3m-3-10h3m-3 19h3m-3-9h3m-2 5h3m-3-5h3m-3 7h3m-2-18h3m-3 19h3m-2-6h3m-2-1h3m-2 5h3m-2-5h3m2-9h3m-3-39h3m-1 52h3m-1 1h3m0-1h3m1-17h3m-2-41h3m-2 12h3m-3 30h3m-2-4h3m-2 1h3m-2 12h3m-3 0h3m-3 3h3m-3-2h3m-1 0h3m-3-2h3m-3 2h3m-2 4h3m-2 2h3m-2-15h3m-2 12h3m-2 4h3m-1-4h3m-2 7h3m-1-6h3m-2-4h3m0 2h3m-1-1h3m2 1h3m0-12h3m-3 0h3m-2 1h3m0-4h3m-3-45h3m-3 51h3m-2 8h3m-3-10h3m-2-28h3m-2 30h3m-2 5h3m-3-5h3m-1 14h3m-3-11h3m-3 3h3m-2 8h3m-2-7h3m-3-40h3m-3 14h3m-2 27h3m-3-7h3m-2 10h3m-3 1h3m-3-10h3m-3 5h3m-1-3h3m-3 2h3m-3-6h3m-3 4h3m-2-36h3m-3 32h3m-3-37h3m-3 13h3m-3 32h3m-2-43h3m-3 22h3m-2-18h3m-3-10h3m-3 52h3m-3 1h3m-2-3h3m-3-50h3m-3 22h3m-2 27h3m-3-24h3m-3-21h3m-2 43h3m-3-6h3m-3-16h3m-2-18h3m-3 41h3m-3-34h3m-3 35h3m-3-25h3m-3 3h3m-2 17h3m-3-3h3m-3-35h3m-3 18h3m-2 9h3m-2-20h3m-3 7h3m-3-13h3m-3 16h3m-3 6h3m-3-28h3m-2 9h3m-3-12h3m-3 12h3m-3-6h3m-2 20h3m-3 21h3m-3-10h3m-3-34h3m-3 22h3m-2-7h3m-3-6h3m-2-9h3m-3 31h3m-3-32h3m-3 36h3m-2-29h3m-3 1h3m-3 2h3m-3 25h3m-3-4h3m-3-21h3m-2 28h3m-3-34h3m-3 30h3m-3-35h3m-2-2h3m-3 35h3m-3-23h3m-3 20h3m-3 2h3m-3 3h3m-2 1h3m-3-25h3m-3 27h3m-3-28h3m-3-9h3m-2 6h3m-3-1h3m-3-4h3m-2 39h3m-3-2h3m-3-30h3m-3-8h3m-3-1h3m-3 27h3m-3 5h3m-2-10h3m-3 15h3m-3-34h3m-2 1h3m-3-4h3m-3 42h3m-3-8h3m-2 13h3m-3-28h3m-3 24h3m-3-37h3m-3 4h3m-2 24h3m-3-37h3m-2 51h3m-3-7h3m-3-7h3m-3-24h3m-3 29h3m-3-35h3m-2 25h3m-2-5h3m-3-22h3m-3 29h3m-3 8h3m-3-41h3m-3 4h3m-2 46h3m-3-21h3m-3-22h3m-2 11h3m-2 17h3m-3-30h3m-2 21h3m-3-11h3m-3-5h3m-2 26h3m-2-36h3m-2 3h3m-3 25h3m-3 5h3m-3-20h3m-3 26h3m-2-1h3m-2-10h3m-3-19h3m-3-9h3m-3 32h3m-3 2h3m-3 4h3m-2-10h3m-3 4h3m-3-22h3m-2 21h3m-3 7h3m-2-3h3m-2-25h3m-3 1h3m-3 22h3m-2 6h3m-3-13h3m-2-13h3m-3 3h3m-3 12h3m-3 10h3m-2-28h3m-3 22h3m-3-1h3m-2 8h3m-3 1h3m-3-30h3m-3 6h3m-2-23h3m-2 17h3m-3 29h3m-3-1h3m-3-27h3m-2 29h3m-3-26h3m-2-1h3m-3-8h3m-2 6h3m-3 34h3m-1-4h3m-3-32h3m-3 7h3m-3 14h3m-1-23h3m-2 24h3m-3 10h3m-2 0h3m-2-7h3m-2-21h3m-3 19h3m-3-4h3m-3 12h3m-2-8h3m-3 1h3m-3-4h3m-2 4h3m-3-1h3m-2-1h3m-2 3h3m-3 0h3m-2-23h3m-3-13h3m-2 11h3m-3 24h3m-2-16h3m-3 3h3m-3-5h3m-3 4h3m-3-15h3m-3 21h3m-2-2h3m-2-2h3m-3 0h3m-3 6h3m-3-11h3m-2 5h3m-3-11h3m-3 7h3m-3 17h3m-3-3h3m-2-4h3m-2-5h3m-3 3h3m-3-1h3m-3-5h3m-3 13h3m-3-14h3m-3 14h3m-2 9h3m-3-17h3m-3-15h3m-2 14h3m-3-6h3m-2 21h3m-3-21h3m-3 7h3m-2-3h3m-3-9h3m-3 7h3m-3 0h3m-2 1h3m-3 10h3m-3-37h3m-2 25h3m-2 18h3m-3-7h3m-3-21h3m-3 12h3m-3 2h3m-2 12h3m-3-22h3m-2 13h3m-3-8h3m-3 19h3m-3-27h3m-3 10h3m-3-6h3m-2 9h3m-3-10h3m-2 1h3m-3 8h3m-2 11h3m-3-13h3m-3 12h3m-3 6h3m-3-9h3m-2 11h3m-3-25h3m-3 4h3m-3 19h3m-3-20h3m-2-9h3m-3 12h3m-3 11h3m-2-1h3m-3-1h3m-3 6h3m-3-14h3m-3 21h3m-3-6h3m-3-6h3m-2-8h3m-3 1h3m-3-13h3m-3 4h3m-3 6h3m-3 25h3m-3-10h3m-3-1h3m-2-16h3m-3 7h3m-3-13h3m-3 16h3m-3 3h3m-3 0h3m-2-4h3m-3 6h3m-3-22h3m-3 11h3m-3 1h3m-3 25h3m-2-30h3m-3-6h3m-3 18h3m-3-29h3m-2 11h3m-3-2h3m-3 14h3m-2-8h3m-3 11h3m-3-9h3m-3 10h3m-3 1h3m-2-18h3m-3 20h3m-3-14h3m-3 14h3m0-6h3m-1-29h3m-2 25h3m-1-1h3"/><path id="g8" d="M183 85h3m0 4h3m-1 8h3m0-3h3m-1 43h3m15-50h3m3 14h3m-1-9h3m-3 7h3m1-6h3m0-4h3m-3 2h3m11 5h3m2 0h3m-2 8h3m-1 2h3m9 33h3m6-44h3m-1 2h3m4 40h3m0-21h3m19-23h3m2 0h3m9 8h3m-2 28h3m0-33h3m15 33h3m4-34h3m7-8h3m2 46h3m2-41h3m9 37h3m1-29h3m10-7h3m1-3h3m1-1h3m20 2h3m12 47h3m5-48h3m-3 35h3m0 5h3m3-37h3m1 1h3m2 0h3m-3-3h3m4-2h3m11 41h3m-2-8h3m2 6h3m18-36h3m1-1h3m9 6h3m3 2h3m-2-15h3m5 13h3m1-5h3m-2 45h3m0-46h3m9 4h3m28 12h3m8-19h3m12 0h3m4 3h3m0-4h3m-2-6h3m5 40h3m-2-35h3m0 4h3m10 31h3m0-36h3m19 10h3m34 36h3m-2-6h3m82-28h3m5-21h3m130 15h3m0-11h3m13-8h3m-2 36h3m148 6h3m311-23h3m422 4h3"/><path id="g12" d="M195 93h3m-1 1h3m-2-2h3m-1 4h3m-3-5h3m2 40h3m0-35h3m-1-2h3m-1-1h3m-1-2h3m-3 40h3m5-41h3m6 3h3m16 4h3m9 35h3m3 3h3m1-4h3m17-34h3m8 39h3m6-40h3m-1 0h3m11 35h3m-1 8h3m10-7h3m-2 0h3m6-36h3m3-1h3m-1 44h3m-1-42h3m16-2h3m8-3h3m0 41h3m0-1h3m1 1h3m1-38h3m11 39h3m0-2h3m3-1h3m0 6h3m3-41h3m6-1h3m-2-2h3m-1 2h3m11 1h3m0 1h3m18 38h3m5-43h3m27 43h3m0 1h3m18-45h3m0 6h3m18 36h3m-1 4h3m0-3h3m11 1h3m11-39h3m-2 43h3m17-53h3m-2 51h3m6-51h3m4-3h3m-1 5h3m-2 8h3m0-4h3m0-12h3m-3 14h3m-3-11h3m-2-1h3m-3 13h3m-3-4h3m-2 2h3m-1 0h3m-3-5h3m-3-2h3m-3 5h3m-2-2h3m-2 1h3m-3-10h3m-2 15h3m-2-7h3m-3 5h3m-2-5h3m-1 6h3m-2-6h3m-2-7h3m-3 14h3m-2-7h3m-1-2h3m-2 1h3m-3 0h3m-2 2h3m-1-4h3m2-2h3m-3 0h3m0 2h3m-2-1h3m0 3h3m-2 2h3m-2 6h3m-2-9h3m1-5h3m86 6h3m-1 0h3m-1 1h3m0 0h3m20-7h3m-3 3h3m-3 6h3m0-11h3m-3 4h3m-3 3h3m-2-1h3m-3-5h3m-3 2h3m-2 7h3m0-8h3m1 14h3m-3-13h3m0 12h3m-2-11h3m-1-1h3m-3-3h3m-1 2h3m0 3h3m2-7h3m-3 4h3m-1-1h3m-2 12h3m36-15h3m-2 2h3m-3 2h3m-2-4h3m-3-1h3m-2 2h3m-3 2h3m-2 15h3m-1-13h3m-3-3h3m-1 0h3m-1 5h3m49-3h3m0 6h3m1-10h3m8 8h3m0-2h3m0 3h3m-1 0h3m-2-5h3m19 5h3m0-3h3m-1-2h3m1 4h3m0 2h3m-3-2h3m-2-1h3m-1-1h3m-3 4h3m0-6h3m176 12h3m-2-8h3m1-6h3m-3 4h3m75 15h3m0 3h3m-3 2h3m-1-3h3m-2 3h3m0-5h3m66 17h3m-2-1h3m-2-4h3m1 5h3m-2 1h3m12-47h3m-1-4h3m-1 0h3m0-2h3m25 8h3m2 0h3m-3-4h3m1-3h3m127 13h3m-3-13h3m-2 9h3m-2 3h3m-2-13h3m-1 0h3m-2 0h3m0 16h3m0-8h3m-2 8h3m-1-5h3m-2-2h3m-2-4h3m-2 2h3m55 0h3m-3 0h3m-2 2h3m-2-2h3m260-15h3m0 5h3m-3-4h3m-1-2h3m4 6h3"/><path id="g13" d="M194 96h3m77-1h3m24 33h3m-1-3h3m4 2h3m12 2h3m-1-2h3m-1 1h3m-3 0h3m-2-3h3m-1 3h3m-2-1h3m-1 1h3m1 1h3m1 3h3m-1-7h3m-2 3h3m-2 3h3m-2-2h3m7 8h3m-1-10h3m-1-1h3m15 2h3m0-36h3m0 37h3m-2-4h3m4 1h3m1 5h3m0-2h3m2 3h3m7 1h3m-1-7h3m-2 0h3m-1 7h3m-3-5h3m0-2h3m-2 7h3m2-5h3m10 2h3m1 2h3m-1-6h3m0 2h3m39-36h3m85 43h3m-3-1h3m58-37h3m6-2h3m-1-3h3m16 3h3m-2-8h3m8-1h3m137-4h3m3 9h3m3-13h3m49 16h3m-1-3h3m18 1h3m-3 3h3m-1-1h3m0-2h3m-2 1h3m23-4h3m-2 25h3m-2-1h3m-3-2h3m-3-16h3m-3 12h3m-3 5h3m-3 0h3m0 1h3m-2-4h3m-3 4h3m-2-3h3m-2 3h3m-2 1h3m-2-3h3m-1-33h3m-2 32h3m1-15h3m-1-3h3m-3 3h3m-1-6h3m-2 6h3m-2 0h3m-2-2h3m-3-10h3m-2 8h3m1 4h3m-2-1h3m-2-6h3m-3 3h3m13 1h3m-2-3h3m-2 2h3m-1 2h3m0-3h3m3 3h3m1-2h3m-2-3h3m-1 0h3m-2 2h3m175-10h3m-1 3h3m-3-1h3m-1 0h3m85 21h3m-2-4h3m-2 3h3m-2 5h3m-1-8h3m-2 8h3m0 1h3m-2-4h3m0-6h3m-2 8h3m-3-6h3m-3 1h3m-2 0h3m-3-1h3m-3-1h3m-3 1h3m1 7h3m-3-8h3m-1 7h3m47 6h3m1-3h3m12-22h3m-1 3h3m-3-11h3m-3-7h3m0 0h3m-1 3h3m-3 25h3m-2-23h3m-2 0h3m-2 20h3m-2-24h3m13 2h3m-1-1h3m-3 1h3m-2 0h3m-2 2h3m-3-3h3m-1-2h3m-3 1h3m-2 5h3m-1-5h3m-2 4h3m-1-4h3m-3-1h3m24 21h3m1-1h3m2-1h3m3 2h3m93-25h3m-1 5h3m-2-7h3m1-3h3m67 8h3m-3 0h3m-3 0h3m265-10h3m91 37h3m8-1h3m2 1h3m92-36h3m-2 5h3"/><path id="g14" d="M181 101h3m3 0h3m-1-1h3m-1 1h3m-2-1h3m-3 0h3m-1 2h3m0-1h3m-1 0h3m3 0h3m-2-3h3m-1 3h3m-1 0h3m-1 1h3m-3 34h3m14-43h3m9 7h3m15-1h3m-1 33h3m9 2h3m6-36h3m-2 3h3m3-3h3m13 3h3m-2-7h3m1 36h3m37-31h3m4 35h3m-3-32h3m-3-2h3m-1 2h3m0-4h3m-2 3h3m1 30h3m2-29h3m-1 0h3m-2-4h3m-3 2h3m0-1h3m11 1h3m0 1h3m-1 1h3m-3-2h3m-2 33h3m-2-33h3m-1 0h3m1-1h3m-1 2h3m11-3h3m3 0h3m0 2h3m3-6h3m18 5h3m1 0h3m-3-1h3m-2 1h3m1 2h3m0-2h3m8 0h3m-3 3h3m2 0h3m-2-1h3m-1 32h3m0-31h3m4-4h3m3 41h3m-1-37h3m1-4h3m1 0h3m6 4h3m0-3h3m-2 32h3m1-35h3m-2 6h3m-1 36h3m-1 0h3m-3-37h3m3 0h3m23 34h3m0-35h3m2 32h3m1 2h3m1-33h3m-1 37h3m-3-6h3m0 5h3m-2-2h3m3 4h3m6-9h3m-2-31h3m1 35h3m-3-34h3m15-2h3m0 2h3m1 1h3m2 1h3m-2-1h3m-3-2h3m-2 1h3m-2-3h3m-2 4h3m-3-1h3m-3 1h3m-2-1h3m-3-2h3m-2 3h3m-2-1h3m-3 2h3m-1-1h3m-2 24h3m2-29h3m6 29h3m-1 0h3m-1 4h3m-1 1h3m-2 0h3m2-46h3m-3 46h3m-2-49h3m0 48h3m7-33h3m-2 31h3m0-1h3m35-1h3m-1 1h3m-2-2h3m-1 0h3m-2 2h3m-2-1h3m-2 2h3m-3 1h3m-1 1h3m-3-2h3m-3 0h3m-3 3h3m-1 0h3m142-34h3m20 22h3m-1 2h3m-1-2h3m-2 0h3m42-37h3m8 6h3m14 33h3m-1-1h3m1 2h3m4-2h3m118 4h3m-1 1h3m5-1h3m55-33h3m81 14h3m133-24h3m-1 0h3m130 2h3m-3 4h3m-3-19h3m-2 25h3m-2-5h3m-3-1h3m-3 4h3m-3 0h3m-1-3h3m-3 2h3m-3-4h3m-3 3h3m-1 0h3m-3 1h3m-3-2h3m-3 1h3m-2 2h3m-3-1h3m-2-5h3m-2 2h3m-2-3h3m-3-2h3m-1 0h3m-2 1h3m-2 2h3m-3-4h3m-2 1h3m-2 2h3m-2 4h3m-2 2h3m55-5h3m-3-17h3m-2 3h3m-3 0h3m-1 10h3m269-26h3"/><path id="g15" d="M179 115h3m-3 4h3m-3 0h3m-2-13h3m-3 4h3m-3 19h3m-2-5h3m-3-12h3m-3 6h3m-2-4h3m-3-11h3m-3 3h3m-3 6h3m-2 0h3m-3 15h3m-3-21h3m-3 1h3m-2 9h3m-2-13h3m-2 11h3m-3 4h3m-2 1h3m-3-5h3m-3-12h3m-2 14h3m-3 9h3m-3-23h3m-3 16h3m-2-13h3m-3 2h3m-3 11h3m-3 0h3m-2-5h3m-3 7h3m-3-6h3m-3-1h3m-3 6h3m-3-7h3m-2-1h3m-3 15h3m-3-6h3m-2-2h3m-3-5h3m-3 5h3m-3 3h3m-2-18h3m-3 16h3m-3-13h3m-3 1h3m-3 13h3m-3-7h3m-3-3h3m-2 11h3m-3-17h3m-3-1h3m-3 4h3m-2-2h3m-3-1h3m-3-2h3m-3 13h3m-3 0h3m-3 10h3m-2-19h3m-3 13h3m-3-10h3m-3 14h3m-3-9h3m-3 13h3m-2-24h3m-3 10h3m-2-10h3m-3 2h3m-3 17h3m-2 4h3m-3-11h3m-2-2h3m-3 15h3m-3-5h3m-3-11h3m-1-9h3m-3 26h3m-2-22h3m-3 10h3m-2 2h3m-3-2h3m-3 4h3m-1-1h3m-3-5h3m-3 1h3m-2-12h3m-3-2h3m-3 11h3m-3-2h3m-3 3h3m-2-7h3m-3 4h3m-2 2h3m-2 20h3m-2-8h3m-3-21h3m-3 9h3m-3 8h3m-2-17h3m-3 18h3m-3-12h3m-2 8h3m-3 2h3m-2 5h3m-2 3h3m-3-15h3m-3 2h3m-3 3h3m-1-6h3m-3-8h3m-3 12h3m-3 1h3m-3-1h3m-2 10h3m-3-10h3m-2 0h3m-2-5h3m-3 6h3m-2-3h3m-3-9h3m-3 11h3m-2 2h3m-3-9h3m-2 8h3m-3 4h3m-3-11h3m-3 4h3m-3 4h3m-2 5h3m-3-6h3m-2-9h3m-3 16h3m-3-13h3m-3 7h3m-2 8h3m-3-5h3m-1-18h3m-3 7h3m-3 15h3m-2-13h3m-3 11h3m-3-5h3m-3 2h3m-2-2h3m-3-8h3m-2 12h3m-3-19h3m-3 2h3m-2 15h3m-3-2h3m-3-2h3m-3-8h3m-3 13h3m-3-12h3m-2 6h3m-2-1h3m-3 1h3m-3-4h3m-3 3h3m-2 10h3m-3-7h3m-3 3h3m-3 3h3m-1-1h3m-3-8h3m-3-5h3m-2 3h3m-3 3h3m-3 1h3m-2-13h3m-3 9h3m-2 3h3m-3-13h3m-3 3h3m-3 9h3m-2-12h3m-2 24h3m-3-15h3m-3 5h3m-3 10h3m-2-23h3m-3 5h3m-2 17h3m-3-3h3m-2-5h3m-3 10h3m-3-14h3m-3 3h3m-3 3h3m-2 7h3m-3-20h3m-2 11h3m-2-2h3m-3 8h3m-3-3h3m-3 3h3m-3-16h3m-3 5h3m-1 10h3m-3-4h3m-3-2h3m-3-5h3m-3 10h3m-3 3h3m-3-3h3m-2-6h3m-3 4h3m-3 1h3m-3-9h3m-2 3h3m-3-2h3m-3 6h3m-2 6h3m-3-5h3m-3-4h3m-3-5h3m-3 15h3m-3-2h3m-2-11h3m-3-2h3m-3 7h3m-3-7h3m-3-1h3m-3 12h3m-3-9h3m-2 1h3m-3 6h3m-2 5h3m-3-24h3m-3 7h3m-3 13h3m-3 3h3m-2-9h3m-3-6h3m-3 3h3m-3-1h3m-3 5h3m-3 7h3m-2 0h3m-2-13h3m-3 3h3m-3 18h3m-3-9h3m-2-2h3m-3-1h3m-3-3h3m-3 0h3m-3 6h3m-3-8h3m-2 2h3m-3 7h3m-2-9h3m-3 5h3m-3 9h3m-3-7h3m-3-5h3m-3-2h3m-3 0h3m-2 3h3m-2 7h3m-3 1h3m-3-9h3m-3 4h3m-3-2h3m-2-12h3m-3 13h3m-3-4h3m-3 7h3m-3-10h3m-3 14h3m-2-5h3m-3-3h3m-2 8h3m-3 0h3m-3-7h3m-3 0h3m-3-1h3m-3 2h3m-3-4h3m-3 7h3m-2-6h3m-3 5h3m-3 3h3m-3-13h3m-2 18h3m-3-7h3m-3-6h3m-2 10h3m-3-9h3m-2 0h3m-3 11h3m-3-18h3m-3-10h3m-3 17h3m-3 3h3m-2-7h3m-3 3h3m-3-1h3m-3-4h3m-3 14h3m-3-19h3m-3 4h3m-2 11h3m-3-3h3m-3-1h3m-3-15h3m-2 23h3m-3-22h3m-2 13h3m-1 8h3m-3-5h3m-3-14h3m-2 4h3m-2-1h3m-1-1h3m-2 4h3m-3-6h3m-3-2h3m-2 0h3m-2 6h3m-2-3h3m-3-5h3m-3 6h3m-2-4h3m-2 2h3m-2 1h3m-3 6h3m-2-4h3m-1 1h3m-2-1h3m-3-1h3m-3 11h3m-3-1h3m-3-6h3m-3-4h3m-2 3h3m-3 0h3m-2 11h3m-3-3h3m-2-2h3m-3-8h3m-3-2h3m-2 1h3m-3 1h3m-2 5h3m-3 7h3m-3-2h3m-1 4h3m-3 2h3m-3-5h3m-1-15h3m-2 16h3m-2-10h3m-3-7h3m-2 22h3m-3-10h3m-3-4h3m-2 5h3m-3 7h3m-3 2h3m-3-8h3m-2-4h3m-3 4h3m-3 2h3m-2-16h3m-3 16h3m-3-10h3m-3 8h3m-2 5h3m-3 0h3m-3-5h3m-3 7h3m-2-5h3m-2 1h3m-1 2h3m-2-2h3m-3-7h3m-2-1h3m-2 10h3m-2-15h3m-3-2h3m-3 19h3m-2-8h3m-3 2h3m-3-10h3m-3-6h3m-3 23h3m-3-13h3m-2 4h3m-3-11h3m-2 10h3m-3 9h3m-2-11h3m-3 8h3m-3-11h3m-3 12h3m-2-7h3m-3 8h3m-3-7h3m-3 8h3m-3-9h3m-2-3h3m-2 6h3m-3-6h3m-3 10h3m-2-6h3m-3 7h3m-3-12h3m-3 13h3m-3-3h3m-3-6h3m-3 7h3m-3-5h3m-2 2h3m-3 5h3m-3 0h3m-2-11h3m-2 14h3m-3-8h3m-2 3h3m-2-4h3m-3 0h3m-3-11h3m-2 5h3m-3 15h3m-1-7h3m-3-4h3m-3-9h3m-2 10h3m-2 8h3m-3-3h3m-1-19h3m-3 10h3m-2 14h3m-3-7h3m-2-3h3m-2 1h3m-3-15h3m-3 20h3m-2-11h3m-3 18h3m-2-26h3m-3 9h3m-2 4h3m-3 13h3m-3-14h3m-2-4h3m-3 6h3m-1-16h3m-3 19h3m-3 3h3m-3-5h3m-3 2h3m-3 7h3m-3-2h3m-2-11h3m-2 15h3m-3-5h3m-2-9h3m-3 2h3m-3-9h3m-2 19h3m-3-22h3m-3 4h3m-3 2h3m-2-4h3m-3 16h3m-2-6h3m-3-11h3m-2 3h3m-3 8h3m-3 2h3m-1-1h3m-3 4h3m-3 1h3m-3-2h3m-2 1h3m-3-20h3m-3 11h3m-2 9h3m-3-8h3m-2 7h3m-3 2h3m-2-17h3m-3-1h3m-2 6h3m-3-8h3m-3 4h3m-3 15h3m-2-8h3m-3-11h3m-2 5h3m-3-7h3m-3 5h3m-3-9h3m-3 16h3m-2-8h3m-3 13h3m-3-21h3m-3 9h3m-3 21h3m-2-10h3m-3-15h3m-2 8h3m-3 9h3m-3 3h3m-2-14h3m-3 20h3m-2-9h3m-2-2h3m-3-6h3m-3 8h3m-2 1h3m-3-1h3m-3 1h3m-2-6h3m-3-3h3m-2 6h3m-3 3h3m-3-3h3m-1-3h3m-3-2h3m-3 2h3m-2 4h3m-3-14h3m-2 16h3m-3-3h3m-3-15h3m-3 11h3m-2 5h3m-3-2h3m-3-14h3m-2 5h3m-3 7h3m-3 4h3m-3 2h3m-3-11h3m-3 2h3m-2 9h3m-3 1h3m-3-6h3m-3-11h3m-3-2h3m-2 20h3m-3-21h3m-3 16h3m-3-1h3m-2-1h3m-3-5h3m-3-4h3m-3 14h3m-3-11h3m-2 10h3m-3-13h3m-3 16h3m-2-4h3m-3 3h3m-3-20h3m-3 8h3m-3 0h3m-3 10h3m-3-11h3m-3 0h3m-3 12h3m-2-7h3m-3 4h3m-3-1h3m-3 12h3m-3-9h3m-3-8h3m-3 10h3m-2-20h3m-3 8h3m-3-1h3m-2 5h3m-3 4h3m-3-16h3m-3 15h3m-2 4h3m-3 5h3m-2-10h3m-3-2h3m-3 4h3m-3 4h3m-3-7h3m-2 7h3m-3 0h3m-3-11h3m-3 1h3m-3 6h3m-2-6h3m-2-9h3m-3 16h3m-3-11h3m-3 3h3m-1-2h3m-3 13h3m-3-14h3m-3 3h3m-3 2h3m-3-5h3m-2 4h3m-2-12h3m-3 8h3m-3 5h3m-2 3h3m-3-8h3m-3-2h3m-3 10h3m-3 0h3m-2-9h3m-3 13h3m-2-7h3m-3 0h3m-3-3h3m-3 0h3m-3 6h3m-3 7h3m-3-18h3m-2 0h3m-3 6h3m-3 0h3m-3-6h3m-3-1h3m-3 16h3m-3 5h3m-2-15h3m-3-6h3m-3 1h3m-2 2h3m-3-1h3m-3 2h3m-3-5h3m-2 7h3m-3 0h3m-3-7h3m-3 13h3m-3 7h3m-2-9h3m-3-6h3m-3 20h3m-3-8h3m-3-17h3m-2 4h3m-3 7h3m-3 4h3m-3-4h3m-2-7h3m-3-2h3m-3 12h3m-2-11h3m-3-4h3m-3 1h3m-1 5h3m-3-2h3m-1 13h3m-2-13h3m-2 6h3m-3-6h3m-2-1h3m1 28h3m-3-13h3m-2 4h3m-2-6h3m-2 5h3m-2-8h3m-3 5h3m-2 4h3m-3-10h3m-2-1h3m-3 2h3m-3 2h3m-3-5h3m-2-3h3m-3 9h3m-3-3h3m-3 3h3m-2 7h3m-3-5h3m-2 3h3m-3-5h3m-3 5h3m-2-5h3m-3-1h3m-3 1h3m-3 2h3m-3 3h3m-2-2h3m-3 3h3m-3-5h3m-3-10h3m-3 1h3m-2 9h3m-3-2h3m-3 8h3m-3-12h3m-3-4h3m-2 20h3m-3-20h3m-3 14h3m-2 0h3m-3 2h3m-3-13h3m-3 7h3m-3-10h3m-3 6h3m-3 0h3m-3 10h3m-2-9h3m-3 0h3m-3-6h3m-3 7h3m-3-11h3m-2 20h3m-3-12h3m-3 1h3m-3 6h3m-3-12h3m-3-7h3m-2 3h3m-3 11h3m-3 1h3m-3-9h3m-2-4h3m-3 2h3m-3 1h3m-2 8h3m-2 1h3m-3 6h3m-3-17h3m-3-1h3m-1 20h3m-3-8h3m-3 3h3m-2-9h3m-3 6h3m-2 0h3m-3-9h3m-2-5h3m-3 21h3m-3-4h3m-2-7h3m-3-8h3m-2 13h3m-3-5h3m-2 8h3m-3-5h3m-3 3h3m-3 0h3m-3-7h3m-3-1h3m-2-4h3m-3 3h3m-3 10h3m-2-5h3m-3 9h3m-2-10h3m-3 11h3m-2-4h3m-3-17h3m-2 1h3m-3 6h3m-2 14h3m-3-10h3m-3 3h3m-3 2h3m-2-11h3m-3 5h3m-2-7h3m-3 15h3m-2-13h3m-3 2h3m-3 7h3m-3-10h3m-2 13h3m-2-9h3m-3-8h3m-3 15h3m-2-6h3m-3 0h3m-3 7h3m-3-3h3m-3-6h3m-3 0h3m-3 10h3m-2-10h3m-3 14h3m-3-4h3m-2-12h3m-3 11h3m-3-11h3m-3 1h3m-3 13h3m-2-1h3m-3-17h3m-2 15h3m-2 0h3m-3-12h3m-3 7h3m-3-4h3m-3 8h3m-2-3h3m-3-9h3m-3 0h3m-2 4h3m-3 1h3m-2-2h3m-3 5h3m-3 8h3m-3-12h3m-3 7h3m-2 6h3m-3-16h3m-3 5h3m-2-5h3m-3-2h3m-3 2h3m-3-6h3m-2 10h3m-2-7h3m-3-2h3m-3 8h3m-2 17h3m-3-13h3m-3-8h3m-3 13h3m-2-8h3m-2 7h3m-3-8h3m-2 10h3m-3-10h3m-2 3h3m-3-6h3m-2 5h3m-3 6h3m-3-8h3m-2 8h3m-3-2h3m-3-1h3m-3-3h3m-2 0h3m-3-1h3m-3-11h3m-3 9h3m-1 3h3m-3 2h3m-3-6h3m-3 4h3m-3-6h3m-3 1h3m-2 9h3m-3-12h3m-3 2h3m-3-3h3m-2 8h3m-3-12h3m-3 17h3m-2-3h3m-3 3h3m-2 1h3m-3-10h3m-3-2h3m-3 1h3m-3 14h3m-2-12h3m-3 0h3m-3 8h3m-3-4h3m-3-4h3m-3 2h3m-3 2h3m-2-9h3m-3 15h3m-3 4h3m-3-6h3m-2 4h3m-3-11h3m-3-4h3m-3 4h3m-3 11h3m-2-9h3m-3 5h3m-2-9h3m-3 7h3m-2-12h3m-3 4h3m-3 9h3m-2-15h3m-3 22h3m-3-15h3m-2 6h3m-3-13h3m-3 20h3m-2-12h3m-3 8h3m-3 8h3m-2 0h3m-3 4h3m-2-6h3m-3 5h3m-2-11h3m-3 0h3m-2 8h3m-2-3h3m-2-5h3m-3 2h3m-2-1h3m-2 8h3m-2-5h3m-3-18h3m-2 14h3m-3 0h3m-2 9h3m-2-3h3m-3-3h3m-2-7h3m-3 12h3m-2-7h3m-2 10h3m-3-8h3m-3-8h3m-3 8h3m-2 3h3m-3 1h3m-3 2h3m-2-14h3m-3 17h3m-3-23h3m-3 6h3m-3 3h3m-2-4h3m-3 8h3m-2-2h3m-3 5h3m-3-13h3m-3 11h3m-3-2h3m-2-9h3m-3 3h3m-3 13h3m-3-3h3m-3-8h3m-2 14h3m-3-2h3m-3-12h3m-3 15h3m-3-7h3m-2-11h3m-3 19h3m-3-6h3m-2-10h3m-3 5h3m-3 5h3m-2-11h3m-3 4h3m-1-5h3m-3-3h3m-3 2h3m-2 4h3m-3 3h3m-3-3h3m-2-1h3m-3 4h3m-3-7h3m-2-5h3m-3 5h3m-2 7h3m-3-8h3m-3 8h3m-2 9h3m-2-14h3m-3 9h3m-3-4h3m-1-3h3m-3 3h3m-2 9h3m-2-2h3m-3-18h3m-2 20h3m-2-1h3m-3-15h3m-3 17h3m-3-10h3m-3 3h3m-3 5h3m-2-11h3m-3 15h3m-3-7h3m-2-5h3m-3-1h3m-2-1h3m-2 2h3m-3 4h3m-2-11h3m-3 13h3m-2-20h3m-3 16h3m-2-6h3m-2 14h3m-2-15h3m-3-1h3m-2 11h3m-2-5h3m-3 7h3m-2-14h3m-3 4h3m-2 4h3m-3 1h3m-2 2h3m-3-10h3m-2-7h3m-3 5h3m-3 2h3m-3 11h3m-2 0h3m-2-17h3m-3 13h3m-2 1h3m-3-8h3m-3-6h3m-3 6h3m-2-4h3m-3 15h3m-2-6h3m-3-13h3m-2 7h3m-2 13h3m-3-10h3m-3 13h3m-3-15h3m-2 0h3m-3 0h3m-3 7h3m-3-11h3m-3 12h3m-3-8h3m-2 3h3m-3 4h3m-3-14h3m-3 17h3m-3-7h3m-3-4h3m-2 5h3m-3 4h3m-3-15h3m-3 10h3m-3 0h3m-3 0h3m-2-1h3m-3-3h3m-3 1h3m-2 5h3m-3-2h3m-3-2h3m-3-4h3m-2 18h3m-3-22h3m-3 6h3m-3 7h3m-2 0h3m-3 3h3m-3-12h3m-3-2h3m-3 17h3m-2-13h3m-2 11h3m-3 2h3m-3-20h3m-3 16h3m-3-6h3m-2 4h3m-3-3h3m-3 3h3m-3-6h3m-2-4h3m-2 16h3m-3-15h3m-2 6h3m-3-4h3m-3 12h3m-2-17h3m-3 9h3m-3 3h3m-2-12h3m-3 8h3m-3 3h3m-3 3h3m-3-7h3m-2 17h3m-3-21h3m-2 9h3m-3-6h3m-1-4h3m-3 9h3m-2 2h3m-3-9h3m-3 1h3m-3 6h3m-3 14h3m-3-20h3m-3 0h3m-2 2h3m-3 10h3m-2 3h3m-3-18h3m-1 16h3m-3-15h3m-2-5h3m-3 8h3m-3 13h3m-2-10h3m-1 3h3m-2 5h3m-3-17h3m-3 23h3m-2-23h3m-3 33h3m-3-7h3m-2-9h3m-3 2h3m-3 3h3m-2-6h3m-3-3h3m-2 20h3m-3-8h3m-2-26h3m-3 28h3m-2-25h3m-2 0h3m-2 21h3m-2 1h3m1-1h3m-2 8h3m-3 2h3m-2-26h3m0 8h3m-3-14h3m-3 3h3m-2 5h3m-2-4h3m-3 3h3m-3 7h3m-2-8h3m-2 16h3m-3-7h3m-3-10h3m-3-2h3m-3 2h3m-2 13h3m-3-4h3m-2-10h3m-3 11h3m-2 4h3m-3-4h3m-3-4h3m-3-5h3m-2 9h3m-2-1h3m-3-8h3m-3 8h3m-2 8h3m-3 1h3m-3-8h3m-2-7h3m-3 0h3m-3-4h3m-3 3h3m-3 1h3m-2-1h3m-2 11h3m-2-11h3m-3 4h3m-3 4h3m-2-10h3m-2 0h3m-1 12h3m3-3h3m-2-8h3m0 3h3m-3 7h3m-3 0h3m-1-6h3m-3 4h3m-2-10h3m-1 26h3m-3-35h3m-3 11h3m-2 2h3m-3-9h3m-3 8h3m-2 5h3m-3-5h3m-3-4h3m-2-6h3m-3 16h3m-2-10h3m-3 3h3m-2-6h3m-3 7h3m-2 2h3m-1-6h3m-3 13h3m-3-15h3m-3 6h3m-2-1h3m-2 4h3m-3-2h3m-3-11h3m-3 12h3m-3 2h3m-3-4h3m-3-7h3m-3 3h3m-3 2h3m-2-1h3m-3 9h3m-3-16h3m-3 13h3m-3-1h3m-3-8h3m-2-1h3m-3 3h3m-3 7h3m-3 0h3m-3-6h3m-3 0h3m-3 4h3m-2 3h3m-3-11h3m-3 5h3m-3-6h3m-3 2h3m-2 3h3m-3 9h3m-3-9h3m-3 4h3m-2 0h3m-3 6h3m-3-16h3m-3 3h3m-3 11h3m-2-9h3m-3 9h3m-3 1h3m-3 2h3m-3-9h3m-3 3h3m-3-10h3m-3 2h3m-3 3h3m-2 2h3m-3 6h3m-3-19h3m-3 22h3m-3-15h3m-2-3h3m-3 6h3m-3 6h3m-3-16h3m-2 6h3m-3 3h3m-3-3h3m-3 18h3m-2-16h3m-3 4h3m-3-10h3m-2 1h3m-3 2h3m-3-2h3m-3 11h3m-3-1h3m-3-10h3m-2-3h3m-3 16h3m-3 2h3m-2-4h3m-3-6h3m-3-4h3m-3 2h3m-2 5h3m-1-13h3m-3 14h3m-3-2h3m-3-12h3m-2 28h3m-3-23h3m-3 3h3m-2 16h3m-2-17h3m-3 10h3m-3 1h3m-2-19h3m-2 11h3m-2 6h3m-2-10h3m-2 14h3m-3-4h3m-3-7h3m-3 14h3m-2-11h3m-3 3h3m-3-8h3m-3 18h3m-2-16h3m-3 6h3m-3-16h3m-3 18h3m-3-1h3m-3 3h3m-2-1h3m-3-2h3m-2 4h3m-3 4h3m-3-22h3m-2-2h3m-3 6h3m-3 14h3m-3-2h3m-2-2h3m-3-12h3m-3-18h3m-3 28h3m-3 4h3m-1 4h3m-3-3h3m-3 3h3m-3 0h3m-3 4h3m-2-18h3m-3 11h3m-3 5h3m-3 0h3m-2 4h3m-2-20h3m-3 13h3m-3-1h3m-3 4h3m-2-15h3m-3 1h3m-3 6h3m-3 4h3m-2 3h3m-2-18h3m-3 6h3m-2 2h3m-3-13h3m-2 14h3m-3 3h3m-3 9h3m-2-3h3m-2-22h3m-3 9h3m-2 2h3m-3-5h3m-3-1h3m-2 6h3m-3-7h3m-3 1h3m-3 0h3m-3 13h3m-2-4h3m-3-9h3m-2 5h3m-3-2h3m-3-7h3m-3 17h3m-3-12h3m-3 13h3m-3-12h3m-3 11h3m-2-14h3m-3 0h3m-2 13h3m-2 4h3m-2-11h3m-3-9h3m-3 10h3m-3 10h3m-2-9h3m-3-3h3m-3 0h3m-3 1h3m-2 5h3m-3-3h3m-3-11h3m-3 10h3m-3 3h3m-2-5h3m-3 1h3m-3 4h3m-3-2h3m-3 11h3m-2-11h3m-2 1h3m-3 3h3m-3-8h3m26 4h3m-2 2h3m-2-12h3m-3 15h3m-3 3h3m-3 3h3m-2-20h3m-3-4h3m-2 20h3m-3 4h3m-3 3h3m-2-24h3m-3 14h3m-3 7h3m-2-4h3m-3 1h3m-3-3h3m-3-1h3m-2-15h3m-3 20h3m-2-5h3m-3-11h3m-3 13h3m-3-1h3m-3 0h3m-3-1h3m-2-10h3m-3 7h3m-3 9h3m-3-9h3m-2 6h3m-3-9h3m-3 11h3m-3-6h3m-2-2h3m-3-7h3m-3-2h3m-3 9h3m-2 1h3m-3 2h3m-2-7h3m-3 1h3m-3 2h3m-2-5h3m-3 7h3m-2 0h3m-3-12h3m-3 5h3m-2 5h3m-3-11h3m-2 11h3m-3 8h3m-3-6h3m-2 5h3m-3 3h3m-3-3h3m-3-5h3m-3-5h3m-2 8h3m-2 8h3m-3-16h3m-3 16h3m36-3h3m-3-5h3m-3-6h3m-2 9h3m-3 5h3m-2-16h3m-2 5h3m-3-4h3m-2 11h3m-3-11h3m-3 10h3m-2-1h3m-3 3h3m-3-12h3m-3 3h3m-2 1h3m-2 8h3m-2 1h3m-2-3h3m-2-5h3m-3 4h3m-3-11h3m-2 3h3m-2 11h3m-3-20h3m-3 13h3m-3-8h3m-3 8h3m-3 4h3m-3-14h3m-2 2h3m-3 4h3m-3 6h3m-2 6h3m-3-20h3m-3 10h3m-1 10h3m-3 1h3m-2-15h3m-3-1h3m-2 10h3m-3-11h3m-1 6h3m-3 6h3m-2-12h3m-3 12h3m-3 3h3m-3-13h3m-2 9h3m-3 2h3m-3-16h3m-2 7h3m-2-9h3m-2 17h3m-3-13h3m-2 10h3m-3-11h3m-2 13h3m-3-12h3m-3 12h3m-3-7h3m-3-8h3m-1 17h3m-2-14h3m-3 4h3m-3-8h3m-2 13h3m-3 0h3m-3-4h3m-2-8h3m-3 8h3m-3-2h3m-3 8h3m-2-14h3m-3 5h3m-3 12h3m-3-12h3m-3 9h3m-3-13h3m-2 0h3m-3 10h3m-3-9h3m-2 13h3m-2-11h3m-3-6h3m-3 8h3m-3-3h3m-3 3h3m-3-4h3m-2 5h3m-3 0h3m-3-3h3m-2-5h3m-3 16h3m-2-6h3m-2-3h3m-3-6h3m-3 1h3m-3 8h3m-3 7h3m-3-9h3m-2 12h3m-2 1h3m-3-14h3m-3 11h3m-2-9h3m-3 0h3m-2-12h3m-3 2h3m-3-2h3m-3 13h3m-3-4h3m-2 12h3m-3 3h3m-2-1h3m-2-4h3m-3-6h3m-3 8h3m-3 2h3m-2-8h3m-3 0h3m-3-2h3m-3 3h3m-3 0h3m-2-3h3m-3 3h3m-2 5h3m-3-1h3m-3-5h3m-2-4h3m-2 9h3m-3 3h3m-3-8h3m-3-3h3m-2 5h3m-3-4h3m-2-8h3m-3 4h3m-3 9h3m-2-22h3m-3 13h3m-3 8h3m-1-6h3m-2-1h3m-3-1h3m-2-3h3m-3 6h3m-3-5h3m-1 1h3m36-5h3m-2 0h3m-2 4h3m-2-6h3m-2 8h3m-3-7h3m-2 2h3m-1-5h3m-2 4h3m-3-2h3m-1 3h3m14 1h3m-3 11h3m-2-8h3m-3 5h3m-3 3h3m-3-1h3m-2-5h3m-2 5h3m-3-14h3m-3 2h3m-2 14h3m-3-7h3m-3 3h3m-2-13h3m-2 14h3m-3 1h3m-3-1h3m-3 1h3m-2-4h3m-3-11h3m-3 15h3m-3-12h3m-2 7h3m-3 5h3m-3 6h3m-3-13h3m-2 3h3m-2-3h3m-3 12h3m-3-4h3m-3-7h3m-3 2h3m-2-3h3m-3 3h3m-3 5h3m-3-7h3m-3-14h3m-3 4h3m-2 4h3m-3 4h3m-3 3h3m-2-1h3m-3-2h3m-3-2h3m-3 4h3m-3-10h3m-3 17h3m-3-17h3m-3 10h3m-2-3h3m-3 7h3m-1-8h3m-3-5h3m-3 11h3m-1-2h3m-2 5h3m-2-12h3m-3 2h3m-2 6h3m-3-9h3m-2 3h3m-3-1h3m-3 2h3m-2 6h3m-3-5h3m-3 6h3m7-9h3m-2-9h3m-3 9h3m0 13h3m-2-3h3m-2-4h3m1 3h3m-3 3h3m0-15h3m-3 2h3m-3 9h3m-3-8h3m-2 0h3m-2 2h3m0 0h3m-3-3h3m0 5h3m-3-4h3m-3 2h3m-3-1h3m-1-1h3m2-3h3m-3 2h3m-2 2h3m-2-1h3m-1-2h3m11 12h3m-2-7h3m-3 6h3m-2-4h3m-3 7h3m-3 6h3m-3-5h3m-3 4h3m-2-14h3m-3 7h3m-3-6h3m-2 8h3m-3 4h3m-2-4h3m-3 4h3m-3-4h3m-2 5h3m-3-8h3m-2 11h3m-3-11h3m-3 1h3m-3 6h3m-2-7h3m-2 8h3m-3-4h3m-2-2h3m-3 8h3m-3-9h3m-1-7h3m-3 12h3m-2-17h3m-3 21h3m-2-11h3m0-1h3m-3 11h3m-3 3h3m-1-6h3m-2-4h3m-2-8h3m-3 10h3m-1-8h3m35 13h3m1-2h3m-1 0h3m-1-11h3m-3 11h3m-2-12h3m-2 10h3m-2-3h3m57 8h3m-2-3h3m-3-1h3m-1-1h3m-1 6h3m0-6h3m-3-1h3m-2 4h3m-3 2h3m-2 0h3m-3-3h3m-2 0h3m-2-2h3m-3 4h3m-2 3h3m-3-5h3m-2-1h3m-2 3h3m-3 2h3m-3 1h3m-2 1h3m-3-6h3m-3 0h3m-3 0h3m-2-2h3m-2 3h3m-2 0h3m-3 3h3m-3 4h3m-3-3h3m-2 0h3m-3-6h3m-3 4h3m-3 6h3m-2 3h3m-2 1h3m-3-10h3m-2 4h3m-2-5h3m-3 7h3m-3-11h3m19-3h3m-3 5h3m-2 2h3m-3-2h3m-2 0h3m-3-7h3m-3 5h3m-2-5h3m-2 3h3m-3 3h3m-3-6h3m-2 9h3m-2 1h3m-3 0h3m-3 0h3m-3-4h3m-2-5h3m-2 2h3m10 7h3m-3 1h3m-3 0h3m-2-6h3m-3 1h3m-2 3h3m-2 0h3m-3-3h3m-3-4h3m-2 1h3m-3 3h3m-2-6h3m-2 9h3m-3-6h3m-3 7h3m-3 2h3m-3-12h3m-2 4h3m-3-1h3m-2 0h3m-2 1h3m26 3h3m-3 1h3m-1 0h3m-2-1h3m-2-4h3m-3 8h3m-2-10h3m-3 4h3m-1-4h3m8 14h3m-2-1h3m-3-5h3m-2 7h3m-3-5h3m-2 3h3m-1-1h3m-2-2h3m-2-2h3m-2-1h3m-1-1h3m20-6h3m-3 5h3m-2-5h3m1 2h3m-2-4h3m-3 4h3m-2 1h3m-3-2h3m-3 1h3m0-1h3m-3 8h3m-2-10h3m-3 11h3m-1-9h3m-3-3h3m-2 10h3m-2-3h3m-2 4h3m-1-2h3m-1 6h3m-2-7h3m-1 5h3m-3-6h3m-2-10h3m-2-4h3m-3 17h3m-2 1h3m-1-18h3m46 14h3m16-27h3m-2 7h3m-3-17h3m-2-5h3m-3 24h3m-3-17h3m-2-1h3m-3 4h3m-2 12h3m-3 1h3m-2-16h3m-3 19h3m-2-3h3m-3-9h3m-3-8h3m-3 5h3m-2 12h3m-3-5h3m-3-7h3m-2 4h3m-3-1h3m-2-7h3m-3 1h3m-2 4h3m13-10h3m2 10h3m-2-6h3m-2 3h3m-3 5h3m-2-8h3m-2 7h3m-3-6h3m-2-1h3m-3 0h3m-3 4h3m-2-1h3m-2-4h3m-2 13h3m-2-10h3m-3 14h3m-3-14h3m-2 24h3m-3-8h3m-3-4h3m-2 0h3m-2 6h3m-3 0h3m-2 2h3m-3 1h3m-3 6h3m-3-16h3m-3 4h3m-2 8h3m-3-5h3m-3 1h3m-3-6h3m-1 13h3m-3-5h3m-2-11h3m-2 12h3m-3-5h3m-3 9h3m-1-13h3m-3 3h3m-3 3h3m-3-1h3m-2 9h3m-2-7h3m-2-7h3m-3 13h3m0-6h3m-2 6h3m-2-5h3m-3-3h3m-2 1h3m-2 9h3m-3-9h3m-2-2h3m-3 8h3m-2-11h3m-2 14h3m-3-12h3m-3 0h3m-2 2h3m-2-2h3m-3 0h3m-3 5h3m-3-2h3m-2 5h3m-2 2h3m-2-13h3m-2 7h3m-3 0h3m-2-5h3m-2-2h3m-3 3h3m-2 5h3m-1 2h3m-1-5h3m-3 2h3m-2-5h3m-2-1h3m-2 1h3m-2-1h3m-1 4h3m-3-5h3m-3 1h3m15-20h3m0 0h3m-2 4h3m-2 2h3m7 7h3m-2-18h3m-2 14h3m-1-12h3m-1 11h3m-1 2h3m-2-3h3m-1 4h3m44 15h3m-2-9h3m-3-9h3m-1 11h3m-3 4h3m-2 4h3m-1-3h3m0-7h3m-2 9h3m-2 1h3m-3-17h3m-2-1h3m-3 12h3m-2 6h3m-2-17h3m-1 9h3m-2-10h3m-3 19h3m-2-23h3m-1 3h3m-3 10h3m-2 2h3m8 8h3m-2 0h3m-3 3h3m-1 4h3m-2-5h3m-3 6h3m-2-4h3m-2 4h3m27-34h3m-2 9h3m-2-4h3m-2-5h3m-2 5h3m-1 3h3m-3-21h3m-3 16h3m-3-15h3m-3 17h3m-2-17h3m-3-1h3m-3 2h3m-2-4h3m-2 1h3m-3 18h3m-3-2h3m-3 1h3m-2-17h3m-3 4h3m-2 19h3m29 20h3m-3 10h3m-1-8h3m-3 0h3m-2 8h3m-2-2h3m-3-9h3m-3 2h3m-3 2h3m-2-3h3m-3 3h3m-1-4h3m19 4h3m-3 0h3m-1 1h3m-3-3h3m-2-9h3m-3 9h3m-2-3h3m-2 0h3m-3 3h3m-1-3h3m-3 1h3m-2-4h3m8 10h3m-2-2h3m-2 4h3m-3-2h3m-3-1h3m-2 3h3m-1 1h3m-1-3h3m-2 4h3m-1-6h3m64-7h3m1 1h3m-2-3h3m-1 0h3m-2 0h3m-3-1h3m-2 2h3m-3 1h3m-2-3h3m65 0h3m-2-8h3m-3 0h3m-2 9h3m-1-3h3m-3-2h3m-2 5h3m-3-9h3m-2 4h3m-2 2h3m-2-1h3m-2 3h3m-2-3h3m-2 2h3m-2-6h3m34 21h3m-2-3h3m-1 5h3m-3-5h3m-2 1h3m-3 3h3m-2 1h3m-2-6h3m-2 3h3m-3-3h3m-3 5h3m-2-5h3m-3 3h3m-2-3h3m-3 2h3m-2 2h3m-2-1h3m-3 1h3m15-2h3m-2-5h3m-1 7h3m-2-3h3m-3 2h3m0-4h3m1-1h3m-2 2h3m0-1h3m-3 4h3m-2 0h3m0-3h3m0-1h3m5 1h3m-2-4h3m-2 0h3m-2 2h3m0 2h3m-3-9h3m-2 10h3m-2-8h3m-3-1h3m-2 9h3m-1-9h3m-2 11h3m-1-7h3m-2-2h3m-2 6h3m-2-7h3m-3 5h3m-3 4h3m-2-8h3m11-4h3m3-2h3m48-24h3m-3 1h3m-2 1h3m-3 5h3m-3-4h3m-2 2h3m-2-1h3m-3-5h3m-2 6h3m-1-4h3m-3 1h3m-3-4h3m-2 0h3m-2 5h3m-2-3h3m-2 8h3m25 5h3m-2 10h3m-3-25h3m-2 13h3m-3-9h3m-3 5h3m-3-9h3m-3 23h3m-3-5h3m-2-15h3m-2 11h3m-3-8h3m-3 21h3m-3-12h3m-2 2h3m-3 3h3m-3-20h3m-3 12h3m-2-4h3m-3 20h3m-2-19h3m-3-2h3m-3 15h3m-3 3h3"/></defs>
<path d="M152.0 181.5H2104.0V423.4H152.0ZM396.0 423.4v-20M396.0 181.5v20M640.0 423.4v-20M640.0 181.5v20M884.0 423.4v-20M884.0 181.5v20M1128.0 423.4v-20M1128.0 181.5v20M1372.0 423.4v-20M1372.0 181.5v20M1616.0 423.4v-20M1616.0 181.5v20M1860.0 423.4v-20M1860.0 181.5v20M152.0 275.50h20M2104.0 275.50h-20" fill="none" stroke="#444" stroke-width="3.7" stroke-linecap="square"/>
<clipPath id="c0"><rect x="150.5" y="180.0" width="1955.0" height="244.9"/></clipPath>
<g clip-path="url(#c0)"><g transform="translate(0 181.50) scale(1 0.9955)" stroke-width="3.5" fill="none">
<use xlink:href="#g4" href="#g4" stroke="#000" stroke-width="3.5"/>
<use xlink:href="#g6" href="#g6" stroke="#000" stroke-width="3.5"/>
<use xlink:href="#g14" href="#g14" stroke="#000" stroke-width="3.5"/>
<use xlink:href="#g12" href="#g12" stroke="#000" stroke-width="3.5"/>
<use xlink:href="#g8" href="#g8" stroke="#000" stroke-width="3.5"/>
<use xlink:href="#g0" href="#g0" stroke="#000" stroke-width="3.5"/>
<use xlink:href="#g2" href="#g2" stroke="#000" stroke-width="3.5"/>
<use xlink:href="#g7" href="#g7" stroke="#f00" stroke-width="3.1"/>
<use xlink:href="#g5" href="#g5" stroke="#f00" stroke-width="3.1"/>
<use xlink:href="#g13" href="#g13" stroke="#f00" stroke-width="3.1"/>
<use xlink:href="#g15" href="#g15" stroke="#f00" stroke-width="3.1"/>
<use xlink:href="#g1" href="#g1" stroke="#f00" stroke-width="3.1"/>
<use xlink:href="#g3" href="#g3" stroke="#f00" stroke-width="3.1"/>
</g></g>
<text x="1129" y="168.6" text-anchor="middle" font-family="Liberation Sans, Arial, sans-serif" font-size="49.6" fill="#111">Ground truth</text>
<text x="142.5" y="295.3" text-anchor="end" font-family="Liberation Sans, Arial, sans-serif" font-size="49.6" fill="#111">0.2</text>
<text x="141.5" y="443.9" text-anchor="end" font-family="Liberation Sans, Arial, sans-serif" font-size="49.6" fill="#111">0</text>
<text transform="translate(55.3 302.4) rotate(-90)" text-anchor="middle" font-family="Liberation Sans, Arial, sans-serif" font-size="49.6" fill="#111">Elevation(km)</text>
<path d="M152.0 546.2H2104.0V789.8H152.0ZM396.0 789.8v-20M396.0 546.2v20M640.0 789.8v-20M640.0 546.2v20M884.0 789.8v-20M884.0 546.2v20M1128.0 789.8v-20M1128.0 546.2v20M1372.0 789.8v-20M1372.0 546.2v20M1616.0 789.8v-20M1616.0 546.2v20M1860.0 789.8v-20M1860.0 546.2v20M152.0 640.86h20M2104.0 640.86h-20" fill="none" stroke="#444" stroke-width="3.7" stroke-linecap="square"/>
<clipPath id="c1"><rect x="150.5" y="544.7" width="1955.0" height="246.6"/></clipPath>
<g clip-path="url(#c1)"><g transform="translate(0 546.20) scale(1 1.0025)" stroke-width="3.5" fill="none">
<use xlink:href="#g4" href="#g4" stroke="#000" stroke-width="3.5"/>
<use xlink:href="#g5" href="#g5" stroke="#000" stroke-width="3.5"/>
<use xlink:href="#g13" href="#g13" stroke="#000" stroke-width="3.5"/>
<use xlink:href="#g12" href="#g12" stroke="#000" stroke-width="3.5"/>
<use xlink:href="#g8" href="#g8" stroke="#000" stroke-width="3.5"/>
<use xlink:href="#g0" href="#g0" stroke="#000" stroke-width="3.5"/>
<use xlink:href="#g1" href="#g1" stroke="#000" stroke-width="3.5"/>
<use xlink:href="#g7" href="#g7" stroke="#f00" stroke-width="3.1"/>
<use xlink:href="#g6" href="#g6" stroke="#f00" stroke-width="3.1"/>
<use xlink:href="#g14" href="#g14" stroke="#f00" stroke-width="3.1"/>
<use xlink:href="#g15" href="#g15" stroke="#f00" stroke-width="3.1"/>
<use xlink:href="#g2" href="#g2" stroke="#f00" stroke-width="3.1"/>
<use xlink:href="#g3" href="#g3" stroke="#f00" stroke-width="3.1"/>
</g></g>
<text x="1129" y="533.3" text-anchor="middle" font-family="Liberation Sans, Arial, sans-serif" font-size="49.6" fill="#111">MLANF</text>
<text x="142.5" y="660.7" text-anchor="end" font-family="Liberation Sans, Arial, sans-serif" font-size="49.6" fill="#111">0.2</text>
<text x="141.5" y="810.3" text-anchor="end" font-family="Liberation Sans, Arial, sans-serif" font-size="49.6" fill="#111">0</text>
<text transform="translate(55.3 668.0) rotate(-90)" text-anchor="middle" font-family="Liberation Sans, Arial, sans-serif" font-size="49.6" fill="#111">Elevation(km)</text>
<path d="M152.0 912.0H2104.0V1156.0H152.0ZM396.0 1156.0v-20M396.0 912.0v20M640.0 1156.0v-20M640.0 912.0v20M884.0 1156.0v-20M884.0 912.0v20M1128.0 1156.0v-20M1128.0 912.0v20M1372.0 1156.0v-20M1372.0 912.0v20M1616.0 1156.0v-20M1616.0 912.0v20M1860.0 1156.0v-20M1860.0 912.0v20M152.0 1006.82h20M2104.0 1006.82h-20" fill="none" stroke="#444" stroke-width="3.7" stroke-linecap="square"/>
<clipPath id="c2"><rect x="150.5" y="910.5" width="1955.0" height="247.0"/></clipPath>
<g clip-path="url(#c2)"><g transform="translate(0 912.00) scale(1 1.0041)" stroke-width="3.5" fill="none">
<use xlink:href="#g8" href="#g8" stroke="#000" stroke-width="3.5"/>
<use xlink:href="#g0" href="#g0" stroke="#000" stroke-width="3.5"/>
<use xlink:href="#g2" href="#g2" stroke="#000" stroke-width="3.5"/>
<use xlink:href="#g1" href="#g1" stroke="#000" stroke-width="3.5"/>
<use xlink:href="#g3" href="#g3" stroke="#000" stroke-width="3.5"/>
<use xlink:href="#g7" href="#g7" stroke="#f00" stroke-width="3.1"/>
<use xlink:href="#g4" href="#g4" stroke="#f00" stroke-width="3.1"/>
<use xlink:href="#g6" href="#g6" stroke="#f00" stroke-width="3.1"/>
<use xlink:href="#g5" href="#g5" stroke="#f00" stroke-width="3.1"/>
<use xlink:href="#g13" href="#g13" stroke="#f00" stroke-width="3.1"/>
<use xlink:href="#g14" href="#g14" stroke="#f00" stroke-width="3.1"/>
<use xlink:href="#g12" href="#g12" stroke="#f00" stroke-width="3.1"/>
<use xlink:href="#g15" href="#g15" stroke="#f00" stroke-width="3.1"/>
</g></g>
<text x="1129" y="899.1" text-anchor="middle" font-family="Liberation Sans, Arial, sans-serif" font-size="49.6" fill="#111">DBSCAN</text>
<text x="142.5" y="1026.6" text-anchor="end" font-family="Liberation Sans, Arial, sans-serif" font-size="49.6" fill="#111">0.2</text>
<text x="141.5" y="1176.5" text-anchor="end" font-family="Liberation Sans, Arial, sans-serif" font-size="49.6" fill="#111">0</text>
<text transform="translate(55.3 1034.0) rotate(-90)" text-anchor="middle" font-family="Liberation Sans, Arial, sans-serif" font-size="49.6" fill="#111">Elevation(km)</text>
<path d="M152.0 1278.0H2104.0V1521.8H152.0ZM396.0 1521.8v-20M396.0 1278.0v20M640.0 1521.8v-20M640.0 1278.0v20M884.0 1521.8v-20M884.0 1278.0v20M1128.0 1521.8v-20M1128.0 1278.0v20M1372.0 1521.8v-20M1372.0 1278.0v20M1616.0 1521.8v-20M1616.0 1278.0v20M1860.0 1521.8v-20M1860.0 1278.0v20M152.0 1372.74h20M2104.0 1372.74h-20" fill="none" stroke="#444" stroke-width="3.7" stroke-linecap="square"/>
<clipPath id="c3"><rect x="150.5" y="1276.5" width="1955.0" height="246.8"/></clipPath>
<g clip-path="url(#c3)"><g transform="translate(0 1278.00) scale(1 1.0033)" stroke-width="3.5" fill="none">
<use xlink:href="#g7" href="#g7" stroke="#000" stroke-width="3.5"/>
<use xlink:href="#g4" href="#g4" stroke="#000" stroke-width="3.5"/>
<use xlink:href="#g6" href="#g6" stroke="#000" stroke-width="3.5"/>
<use xlink:href="#g5" href="#g5" stroke="#000" stroke-width="3.5"/>
<use xlink:href="#g0" href="#g0" stroke="#000" stroke-width="3.5"/>
<use xlink:href="#g2" href="#g2" stroke="#000" stroke-width="3.5"/>
<use xlink:href="#g1" href="#g1" stroke="#000" stroke-width="3.5"/>
<use xlink:href="#g3" href="#g3" stroke="#000" stroke-width="3.5"/>
<use xlink:href="#g13" href="#g13" stroke="#f00" stroke-width="3.1"/>
<use xlink:href="#g14" href="#g14" stroke="#f00" stroke-width="3.1"/>
<use xlink:href="#g12" href="#g12" stroke="#f00" stroke-width="3.1"/>
<use xlink:href="#g15" href="#g15" stroke="#f00" stroke-width="3.1"/>
<use xlink:href="#g8" href="#g8" stroke="#f00" stroke-width="3.1"/>
</g></g>
<text x="1129" y="1265.1" text-anchor="middle" font-family="Liberation Sans, Arial, sans-serif" font-size="49.6" fill="#111">ATL08</text>
<text x="142.5" y="1392.5" text-anchor="end" font-family="Liberation Sans, Arial, sans-serif" font-size="49.6" fill="#111">0.2</text>
<text x="141.5" y="1542.3" text-anchor="end" font-family="Liberation Sans, Arial, sans-serif" font-size="49.6" fill="#111">0</text>
<text transform="translate(55.3 1399.9) rotate(-90)" text-anchor="middle" font-family="Liberation Sans, Arial, sans-serif" font-size="49.6" fill="#111">Elevation(km)</text>
<text x="153.0" y="1582" text-anchor="middle" font-family="Liberation Sans, Arial, sans-serif" font-size="49.6" fill="#111">10</text>
<text x="397.0" y="1582" text-anchor="middle" font-family="Liberation Sans, Arial, sans-serif" font-size="49.6" fill="#111">10.5</text>
<text x="641.0" y="1582" text-anchor="middle" font-family="Liberation Sans, Arial, sans-serif" font-size="49.6" fill="#111">11</text>
<text x="885.0" y="1582" text-anchor="middle" font-family="Liberation Sans, Arial, sans-serif" font-size="49.6" fill="#111">11.5</text>
<text x="1129.0" y="1582" text-anchor="middle" font-family="Liberation Sans, Arial, sans-serif" font-size="49.6" fill="#111">12</text>
<text x="1373.0" y="1582" text-anchor="middle" font-family="Liberation Sans, Arial, sans-serif" font-size="49.6" fill="#111">12.5</text>
<text x="1617.0" y="1582" text-anchor="middle" font-family="Liberation Sans, Arial, sans-serif" font-size="49.6" fill="#111">13</text>
<text x="1861.0" y="1582" text-anchor="middle" font-family="Liberation Sans, Arial, sans-serif" font-size="49.6" fill="#111">13.5</text>
<text x="2105.0" y="1582" text-anchor="middle" font-family="Liberation Sans, Arial, sans-serif" font-size="49.6" fill="#111">14</text>
<text x="1129.3" y="1642.3" text-anchor="middle" font-family="Liberation Sans, Arial, sans-serif" font-size="49.6" fill="#111">Along-track distance(km)</text>
<text x="1128.5" y="1710" text-anchor="middle" font-family="Liberation Sans, Arial, sans-serif" font-size="49.6" fill="#111">(b)</text>
<rect x="1552" y="21" width="552" height="142" fill="#fff" stroke="#262626" stroke-width="3.6"/>
<rect x="1661" y="58.5" width="3" height="3" fill="#000"/>
<rect x="1661" y="122" width="3" height="3" fill="#f00"/>
<text x="1768.5" y="79" font-family="Liberation Sans, Arial, sans-serif" font-size="49.6" fill="#111">noise photons</text>
<text x="1767.5" y="142.6" font-family="Liberation Sans, Arial, sans-serif" font-size="49.6" fill="#111">signal photons</text>
</svg>
</body></html>
